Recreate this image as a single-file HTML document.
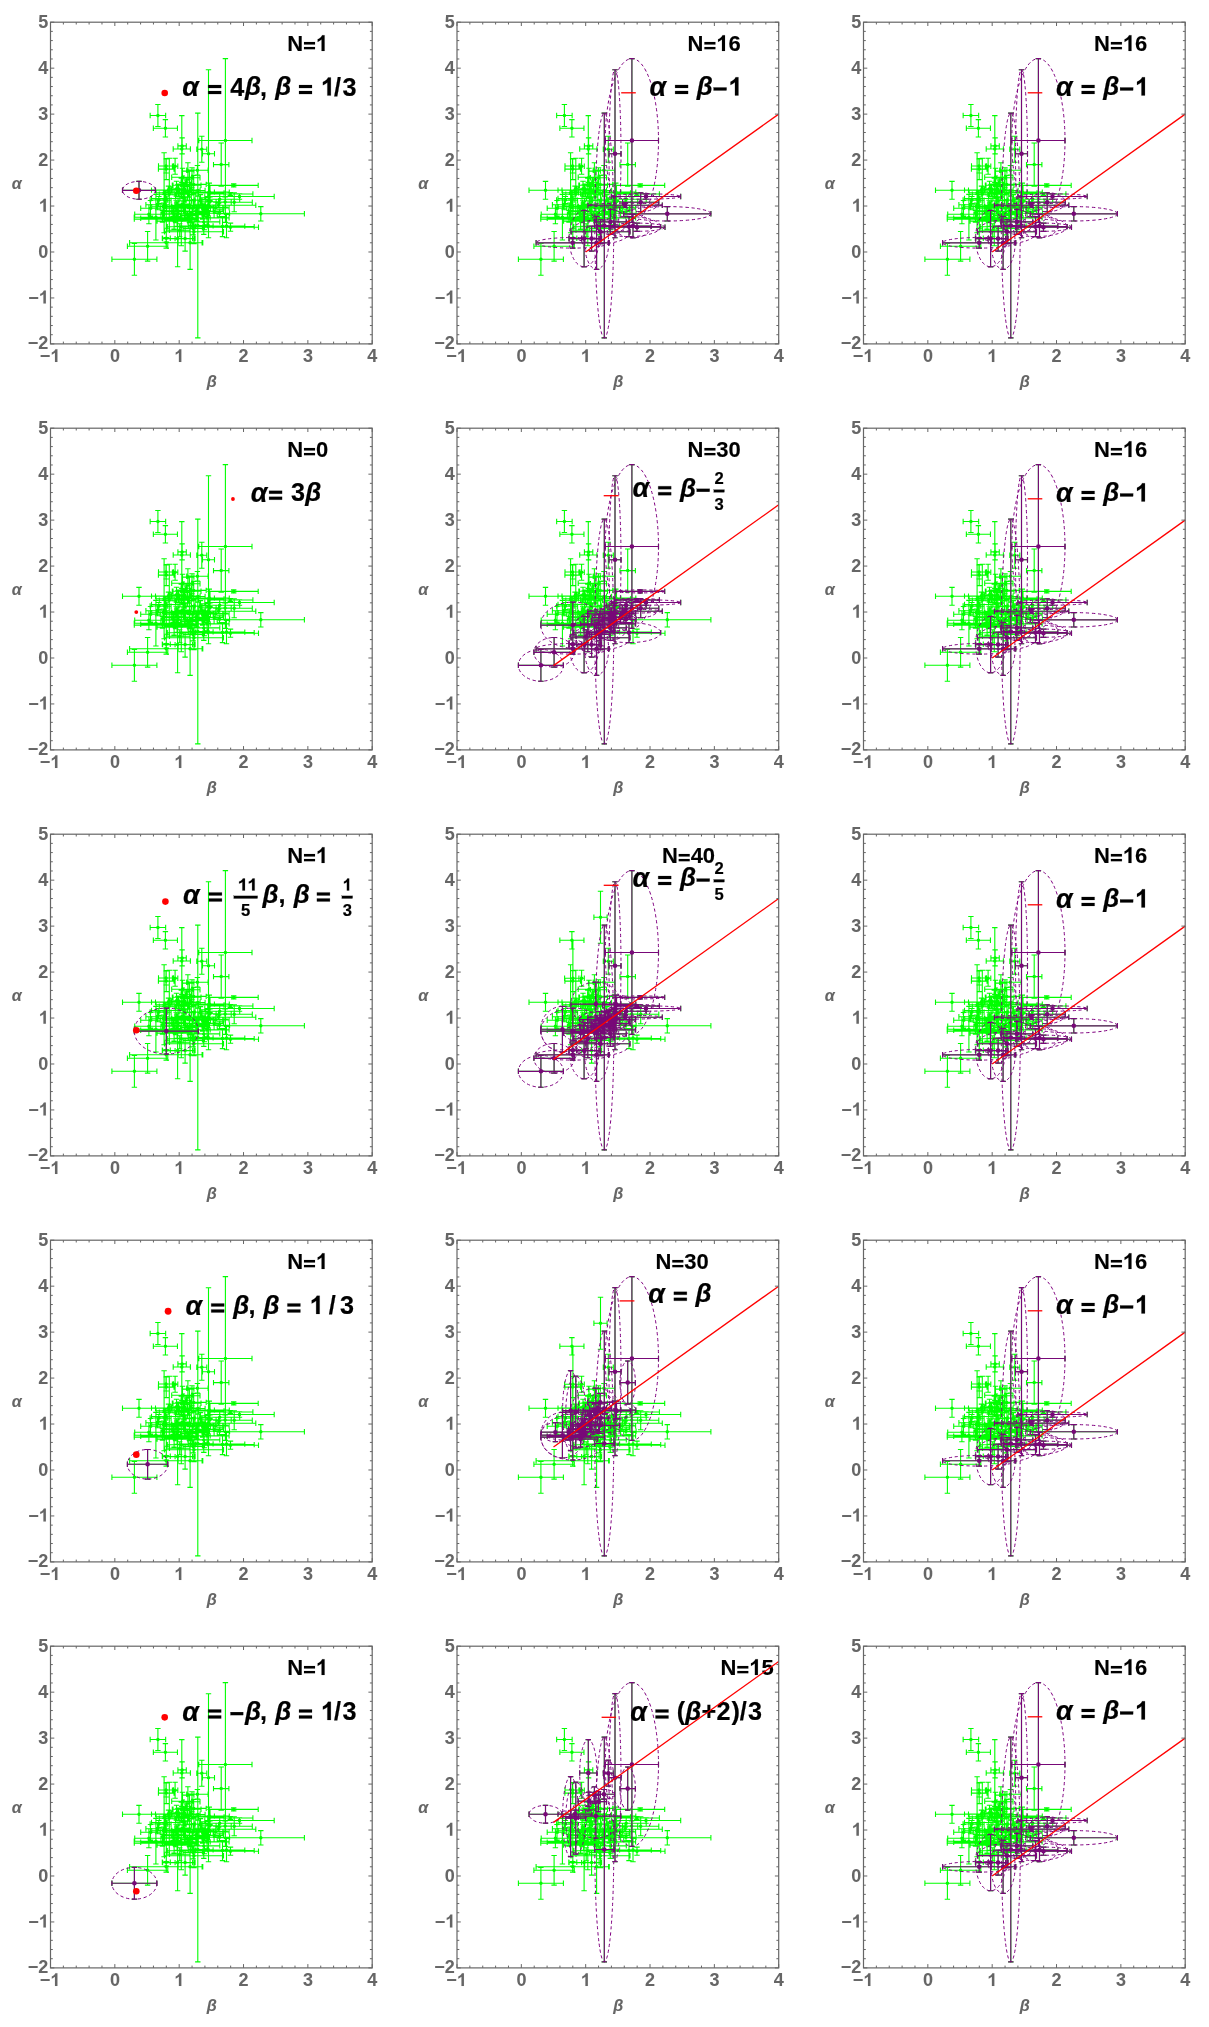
<!DOCTYPE html>
<html><head><meta charset="utf-8"><title>alpha-beta closure relations</title>
<style>html,body{margin:0;padding:0;background:#fff}svg{display:block;font-family:"Liberation Sans",sans-serif}</style></head><body>
<svg width="1209" height="2027" viewBox="0 0 1209 2027" style="will-change:transform">
<rect width="1209" height="2027" fill="#fff"/>
<defs>
<g id="gA" stroke="#00ff00" fill="none" stroke-width="1.1"><path d="M99.65 93.3H115.15M107.4 82.25V104.35M99.65 90.6V96M115.15 90.6V96M104.7 82.25H110.1M104.7 104.35H110.1M102.85 106.1H126.95M114.9 97.45V114.75M102.85 103.4V108.8M126.95 103.4V108.8M112.2 97.45H117.6M112.2 114.75H117.6M127.4 123.7H135.8M131.6 115.7V131.7M127.4 121V126.4M135.8 121V126.4M128.9 115.7H134.3M128.9 131.7H134.3M122.7 126.8H139.9M131.3 93.4V160.2M122.7 124.1V129.5M139.9 124.1V129.5M128.6 93.4H134M128.6 160.2H134M146.3 127H156.3M151.3 114V140M146.3 124.3V129.7M156.3 124.3V129.7M148.6 114H154M148.6 140H154M152 131.5H164M158 47.5V215.5M152 128.8V134.2M164 128.8V134.2M155.3 47.5H160.7M155.3 215.5H160.7M148.3 118.3H201.5M174.9 36.4V200.2M148.3 115.6V121M201.5 115.6V121M172.2 36.4H177.6M172.2 200.2H177.6M163 142.4H178.4M170.7 120.8V164M163 139.7V145.1M178.4 139.7V145.1M168 120.8H173.4M168 164H173.4M137.8 203.3H156.8M147.3 90.9V315.7M137.8 200.6V206M156.8 200.6V206M144.6 90.9H150M144.6 315.7H150M72 168.1H105M88.5 159.2V177M72 165.4V170.8M105 165.4V170.8M85.8 159.2H91.2M85.8 177H91.2M76.9 224.1H117.3M97.1 209.3V238.9M76.9 221.4V226.8M117.3 221.4V226.8M94.4 209.3H99.8M94.4 238.9H99.8M61.4 237.1H106.4M83.9 221.2V253M61.4 234.4V239.8M106.4 234.4V239.8M81.2 221.2H86.6M81.2 253H86.6M79.1 220.6H152.3M115.7 215.3V225.9M79.1 217.9V223.3M152.3 217.9V223.3M113 215.3H118.4M113 225.9H118.4M112.1 216.4H142.1M127.1 188.2V244.6M112.1 213.7V219.1M142.1 213.7V219.1M124.4 188.2H129.8M124.4 244.6H129.8M124.6 216.4H144.6M134.6 203.9V228.9M124.6 213.7V219.1M144.6 213.7V219.1M131.9 203.9H137.3M131.9 228.9H137.3M127.6 220.6H151.6M139.6 194V247.2M127.6 217.9V223.3M151.6 217.9V223.3M136.9 194H142.3M136.9 247.2H142.3M114 209.5H173M143.5 197.5V221.5M114 206.8V212.2M173 206.8V212.2M140.8 197.5H146.2M140.8 221.5H146.2M116.8 204.5H144.8M130.8 185.5V223.5M116.8 201.8V207.2M144.8 201.8V207.2M128.1 185.5H133.5M128.1 223.5H133.5M83.7 195H127.1M105.4 172.2V217.8M83.7 192.3V197.7M127.1 192.3V197.7M102.7 172.2H108.1M102.7 217.8H108.1M83.8 196.9H147.8M115.8 173.9V219.9M83.8 194.2V199.6M147.8 194.2V199.6M113.1 173.9H118.5M113.1 219.9H118.5M166.7 191.6H253.9M210.3 184.4V198.8M166.7 188.9V194.3M253.9 188.9V194.3M207.6 184.4H213M207.6 198.8H213M154.3 174.3H223.7M189 171.6V177M154.3 171.6V177M223.7 171.6V177M186.3 171.6H191.7M186.3 177H191.7M158.7 163.2H207.7M183.2 161.7V164.7M158.7 160.5V165.9M207.7 160.5V165.9M180.5 161.7H185.9M180.5 164.7H185.9M157.2 171.8H202.4M179.8 170.3V173.3M157.2 169.1V174.5M202.4 169.1V174.5M177.1 170.3H182.5M177.1 173.3H182.5M165.6 180H201.8M183.7 170.5V189.5M165.6 177.3V182.7M201.8 177.3V182.7M181 170.5H186.4M181 189.5H186.4M130.9 183H205.3M168.1 181V185M130.9 180.3V185.7M205.3 180.3V185.7M165.4 181H170.8M165.4 185H170.8M152 205H208M180 200.9V209.1M152 202.3V207.7M208 202.3V207.7M177.3 200.9H182.7M177.3 209.1H182.7M157.7 203.9H194.3M176 192.2V215.6M157.7 201.2V206.6M194.3 201.2V206.6M173.3 192.2H178.7M173.3 215.6H178.7M140.3 204.4H203.7M172 194.4V214.4M140.3 201.7V207.1M203.7 201.7V207.1M169.3 194.4H174.7M169.3 214.4H174.7M137.3 199.7H169.3M153.3 187.2V212.2M137.3 197V202.4M169.3 197V202.4M150.6 187.2H156M150.6 212.2H156M149.2 177H189.2M169.2 171V183M149.2 174.3V179.7M189.2 174.3V179.7M166.5 171H171.9M166.5 183H171.9M123.7 195.7H159.7M141.7 186.7V204.7M123.7 193V198.4M159.7 193V198.4M139 186.7H144.4M139 204.7H144.4M134.6 195.7H178.6M156.6 188.7V202.7M134.6 193V198.4M178.6 193V198.4M153.9 188.7H159.3M153.9 202.7H159.3M122.7 185.25H162.7M142.7 177.25V193.25M122.7 182.55V187.95M162.7 182.55V187.95M140 177.25H145.4M140 193.25H145.4M130.6 185.7H178.6M154.6 179.7V191.7M130.6 183V188.4M178.6 183V188.4M151.9 179.7H157.3M151.9 191.7H157.3M142.6 185.25H172.6M157.6 175.25V195.25M142.6 182.55V187.95M172.6 182.55V187.95M154.9 175.25H160.3M154.9 195.25H160.3M135.1 189.2H173.1M154.1 184.2V194.2M135.1 186.5V191.9M173.1 186.5V191.9M151.4 184.2H156.8M151.4 194.2H156.8M106.6 198.9H140.6M123.6 190.9V206.9M106.6 196.2V201.6M140.6 196.2V201.6M120.9 190.9H126.3M120.9 206.9H126.3M113.9 169.9H163.9M138.9 147.9V191.9M113.9 167.2V172.6M163.9 167.2V172.6M136.2 147.9H141.6M136.2 191.9H141.6M138.8 169.9H178.8M158.8 160.9V178.9M138.8 167.2V172.6M178.8 167.2V172.6M156.1 160.9H161.5M156.1 178.9H161.5M101 167.9H135M118 163.9V171.9M101 165.2V170.6M135 165.2V170.6M115.3 163.9H120.7M115.3 171.9H120.7M84.2 192H112.6M98.4 182.5V201.5M84.2 189.3V194.7M112.6 189.3V194.7M95.7 182.5H101.1M95.7 201.5H101.1M95.4 182.6H118.8M107.1 177.6V187.6M95.4 179.9V185.3M118.8 179.9V185.3M104.4 177.6H109.8M104.4 187.6H109.8M90.2 196H133.8M112 192V200M90.2 193.3V198.7M133.8 193.3V198.7M109.3 192H114.7M109.3 200H114.7M111.8 216H119.8M115.8 206V226M111.8 213.3V218.7M119.8 213.3V218.7M113.1 206H118.5M113.1 226H118.5M105.6 170.5H121.6M113.6 130.5V210.5M105.6 167.8V173.2M121.6 167.8V173.2M110.9 130.5H116.3M110.9 210.5H116.3M108.8 172H128.8M118.8 136V208M108.8 169.3V174.7M128.8 169.3V174.7M116.1 136H121.5M116.1 208H121.5M108 143.8H123M115.5 136.8V150.8M108 141.1V146.5M123 141.1V146.5M112.8 136.8H118.2M112.8 150.8H118.2M107.9 146.9H123.5M115.7 136.4V157.4M107.9 144.2V149.6M123.5 144.2V149.6M113 136.4H118.4M113 157.4H118.4M121.9 144H127.3M124.6 136V152M121.9 141.3V146.7M127.3 141.3V146.7M121.9 136H127.3M121.9 152H127.3M121.2 155H142.8M132 146V164M121.2 152.3V157.7M142.8 152.3V157.7M129.3 146H134.7M129.3 164H134.7M131.4 148.9H143.4M137.4 140.6V157.2M131.4 146.2V151.6M143.4 146.2V151.6M134.7 140.6H140.1M134.7 157.2H140.1M136.2 148.1H157.6M146.9 143.3V152.9M136.2 145.4V150.8M157.6 145.4V150.8M144.2 143.3H149.6M144.2 152.9H149.6M133.5 155.5H149.5M141.5 145.5V165.5M133.5 152.8V158.2M149.5 152.8V158.2M138.8 145.5H144.2M138.8 165.5H144.2M121.8 163H139.8M130.8 156V170M121.8 160.3V165.7M139.8 160.3V165.7M128.1 156H133.5M128.1 170H133.5M122.5 163H150.5M136.5 158V168M122.5 160.3V165.7M150.5 160.3V165.7M133.8 158H139.2M133.8 168H139.2M130.7 162.2H155.7M143.2 153.2V171.2M130.7 159.5V164.9M155.7 159.5V164.9M140.5 153.2H145.9M140.5 171.2H145.9M101.2 184.6H124.6M112.9 180.9V188.3M101.2 181.9V187.3M124.6 181.9V187.3M110.2 180.9H115.6M110.2 188.3H115.6M143.8 182.7H159.2M151.5 175.6V189.8M143.8 180V185.4M159.2 180V185.4M148.8 175.6H154.2M148.8 189.8H154.2M117.5 168.1H138.7M128.1 161.8V174.4M117.5 165.4V170.8M138.7 165.4V170.8M125.4 161.8H130.8M125.4 174.4H130.8M139.9 191.4H153.1M146.5 183.9V198.9M139.9 188.7V194.1M153.1 188.7V194.1M143.8 183.9H149.2M143.8 198.9H149.2M157.9 189.3H169.3M163.6 182.9V195.7M157.9 186.6V192M169.3 186.6V192M160.9 182.9H166.3M160.9 195.7H166.3M114.1 191.6H140.9M127.5 188.5V194.7M114.1 188.9V194.3M140.9 188.9V194.3M124.8 188.5H130.2M124.8 194.7H130.2M158.9 191.1H179.1M169 187.6V194.6M158.9 188.4V193.8M179.1 188.4V193.8M166.3 187.6H171.7M166.3 194.6H171.7M168.5 179.8H180.7M174.6 174.7V184.9M168.5 177.1V182.5M180.7 177.1V182.5M171.9 174.7H177.3M171.9 184.9H177.3M134 189.1H156.4M145.2 185.3V192.9M134 186.4V191.8M156.4 186.4V191.8M142.5 185.3H147.9M142.5 192.9H147.9M127.6 178.6H141M134.3 171.5V185.7M127.6 175.9V181.3M141 175.9V181.3M131.6 171.5H137M131.6 185.7H137M111.5 188.7H133.5M122.5 183.3V194.1M111.5 186V191.4M133.5 186V191.4M119.8 183.3H125.2M119.8 194.1H125.2M120.7 183.8H145.3M133 176V191.6M120.7 181.1V186.5M145.3 181.1V186.5M130.3 176H135.7M130.3 191.6H135.7M150.8 179.6H168M159.4 174.8V184.4M150.8 176.9V182.3M168 176.9V182.3M156.7 174.8H162.1M156.7 184.4H162.1M121.1 166.7H133.3M127.2 162.5V170.9M121.1 164V169.4M133.3 164V169.4M124.5 162.5H129.9M124.5 170.9H129.9M110.4 192H136.6M123.5 186.5V197.5M110.4 189.3V194.7M136.6 189.3V194.7M120.8 186.5H126.2M120.8 197.5H126.2M156 185.6H174.6M165.3 180V191.2M156 182.9V188.3M174.6 182.9V188.3M162.6 180H168M162.6 191.2H168M130 193.4H147.8M138.9 186.5V200.3M130 190.7V196.1M147.8 190.7V196.1M136.2 186.5H141.6M136.2 200.3H141.6M145.4 190.4H159M152.2 183.9V196.9M145.4 187.7V193.1M159 187.7V193.1M149.5 183.9H154.9M149.5 196.9H154.9M140.1 184H156.9M148.5 177.8V190.2M140.1 181.3V186.7M156.9 181.3V186.7M145.8 177.8H151.2M145.8 190.2H151.2M145.7 185.9H159.9M152.8 181.5V190.3M145.7 183.2V188.6M159.9 183.2V188.6M150.1 181.5H155.5M150.1 190.3H155.5M90.2 186.1H109.8M100 178.3V193.9M90.2 183.4V188.8M109.8 183.4V188.8M97.3 178.3H102.7M97.3 193.9H102.7M145.4 203.7H162.6M154 199.8V207.6M145.4 201V206.4M162.6 201V206.4M151.3 199.8H156.7M151.3 207.6H156.7M130.6 160H140.8M135.7 155.7V164.3M130.6 157.3V162.7M140.8 157.3V162.7M133 155.7H138.4M133 164.3H138.4M130.5 172H145.3M137.9 169V175M130.5 169.3V174.7M145.3 169.3V174.7M135.2 169H140.6M135.2 175H140.6M142.7 185.8H172.3M157.5 177.8V193.8M142.7 183.1V188.5M172.3 183.1V188.5M154.8 177.8H160.2M154.8 193.8H160.2M124.3 181.9H140.7M132.5 175V188.8M124.3 179.2V184.6M140.7 179.2V184.6M129.8 175H135.2M129.8 188.8H135.2M140 168.3H154.6M147.3 162.7V173.9M140 165.6V171M154.6 165.6V171M144.6 162.7H150M144.6 173.9H150M106.2 184.2H121.4M113.8 176.5V191.9M106.2 181.5V186.9M121.4 181.5V186.9M111.1 176.5H116.5M111.1 191.9H116.5M135.6 178H151.4M143.5 170.6V185.4M135.6 175.3V180.7M151.4 175.3V180.7M140.8 170.6H146.2M140.8 185.4H146.2M119 208H139.4M129.2 201.5V214.5M119 205.3V210.7M139.4 205.3V210.7M126.5 201.5H131.9M126.5 214.5H131.9M125 174.7H140.8M132.9 170.4V179M125 172V177.4M140.8 172V177.4M130.2 170.4H135.6M130.2 179H135.6M119.7 166.5H132.3M126 159.1V173.9M119.7 163.8V169.2M132.3 163.8V169.2M123.3 159.1H128.7M123.3 173.9H128.7M116.2 185.9H135M125.6 178V193.8M116.2 183.2V188.6M135 183.2V188.6M122.9 178H128.3M122.9 193.8H128.3M101 176.3H129.4M115.2 168.5V184.1M101 173.6V179M129.4 173.6V179M112.5 168.5H117.9M112.5 184.1H117.9M126.2 170.6H148M137.1 163.1V178.1M126.2 167.9V173.3M148 167.9V173.3M134.4 163.1H139.8M134.4 178.1H139.8M132.6 167.9H149.6M141.1 163.1V172.7M132.6 165.2V170.6M149.6 165.2V170.6M138.4 163.1H143.8M138.4 172.7H143.8M129 167.9H139.4M134.2 161.3V174.5M129 165.2V170.6M139.4 165.2V170.6M131.5 161.3H136.9M131.5 174.5H136.9M145.5 170.8H173.5M159.5 163.2V178.4M145.5 168.1V173.5M173.5 168.1V173.5M156.8 163.2H162.2M156.8 178.4H162.2M99.6 177.8H117.2M108.4 174.3V181.3M99.6 175.1V180.5M117.2 175.1V180.5M105.7 174.3H111.1M105.7 181.3H111.1M113.3 189.6H141.9M127.6 183.2V196M113.3 186.9V192.3M141.9 186.9V192.3M124.9 183.2H130.3M124.9 196H130.3M108.2 178H120.6M114.4 172.3V183.7M108.2 175.3V180.7M120.6 175.3V180.7M111.7 172.3H117.1M111.7 183.7H117.1M123.6 171.5H138.6M131.1 166.5V176.5M123.6 168.8V174.2M138.6 168.8V174.2M128.4 166.5H133.8M128.4 176.5H133.8M118.7 197H131.5M125.1 193.5V200.5M118.7 194.3V199.7M131.5 194.3V199.7M122.4 193.5H127.8M122.4 200.5H127.8M114 197.7H139.2M126.6 191.4V204M114 195V200.4M139.2 195V200.4M123.9 191.4H129.3M123.9 204H129.3M144.7 177.8H155.3M150 172.4V183.2M144.7 175.1V180.5M155.3 175.1V180.5M147.3 172.4H152.7M147.3 183.2H152.7M114.9 184.4H138.3M126.6 179.7V189.1M114.9 181.7V187.1M138.3 181.7V187.1M123.9 179.7H129.3M123.9 189.1H129.3M122.6 191.8H151.4M137 188.8V194.8M122.6 189.1V194.5M151.4 189.1V194.5M134.3 188.8H139.7M134.3 194.8H139.7M120.7 188.9H134.7M127.7 183.7V194.1M120.7 186.2V191.6M134.7 186.2V191.6M125 183.7H130.4M125 194.1H130.4M132.6 206.2H152.6M142.6 199.7V212.7M132.6 203.5V208.9M152.6 203.5V208.9M139.9 199.7H145.3M139.9 212.7H145.3M134.3 192.5H156.5M145.4 185.3V199.7M134.3 189.8V195.2M156.5 189.8V195.2M142.7 185.3H148.1M142.7 199.7H148.1"/><path d="M105.65 93.3a1.75 1.75 0 1 0 3.5 0a1.75 1.75 0 1 0 -3.5 0zM113.15 106.1a1.75 1.75 0 1 0 3.5 0a1.75 1.75 0 1 0 -3.5 0zM129.85 123.7a1.75 1.75 0 1 0 3.5 0a1.75 1.75 0 1 0 -3.5 0zM129.55 126.8a1.75 1.75 0 1 0 3.5 0a1.75 1.75 0 1 0 -3.5 0zM149.55 127a1.75 1.75 0 1 0 3.5 0a1.75 1.75 0 1 0 -3.5 0zM156.25 131.5a1.75 1.75 0 1 0 3.5 0a1.75 1.75 0 1 0 -3.5 0zM173.15 118.3a1.75 1.75 0 1 0 3.5 0a1.75 1.75 0 1 0 -3.5 0zM168.95 142.4a1.75 1.75 0 1 0 3.5 0a1.75 1.75 0 1 0 -3.5 0zM145.55 203.3a1.75 1.75 0 1 0 3.5 0a1.75 1.75 0 1 0 -3.5 0zM86.75 168.1a1.75 1.75 0 1 0 3.5 0a1.75 1.75 0 1 0 -3.5 0zM95.35 224.1a1.75 1.75 0 1 0 3.5 0a1.75 1.75 0 1 0 -3.5 0zM82.15 237.1a1.75 1.75 0 1 0 3.5 0a1.75 1.75 0 1 0 -3.5 0zM113.95 220.6a1.75 1.75 0 1 0 3.5 0a1.75 1.75 0 1 0 -3.5 0zM125.35 216.4a1.75 1.75 0 1 0 3.5 0a1.75 1.75 0 1 0 -3.5 0zM132.85 216.4a1.75 1.75 0 1 0 3.5 0a1.75 1.75 0 1 0 -3.5 0zM137.85 220.6a1.75 1.75 0 1 0 3.5 0a1.75 1.75 0 1 0 -3.5 0zM141.75 209.5a1.75 1.75 0 1 0 3.5 0a1.75 1.75 0 1 0 -3.5 0zM129.05 204.5a1.75 1.75 0 1 0 3.5 0a1.75 1.75 0 1 0 -3.5 0zM103.65 195a1.75 1.75 0 1 0 3.5 0a1.75 1.75 0 1 0 -3.5 0zM114.05 196.9a1.75 1.75 0 1 0 3.5 0a1.75 1.75 0 1 0 -3.5 0zM208.55 191.6a1.75 1.75 0 1 0 3.5 0a1.75 1.75 0 1 0 -3.5 0zM187.25 174.3a1.75 1.75 0 1 0 3.5 0a1.75 1.75 0 1 0 -3.5 0zM181.45 163.2a1.75 1.75 0 1 0 3.5 0a1.75 1.75 0 1 0 -3.5 0zM178.05 171.8a1.75 1.75 0 1 0 3.5 0a1.75 1.75 0 1 0 -3.5 0zM181.95 180a1.75 1.75 0 1 0 3.5 0a1.75 1.75 0 1 0 -3.5 0zM166.35 183a1.75 1.75 0 1 0 3.5 0a1.75 1.75 0 1 0 -3.5 0zM178.25 205a1.75 1.75 0 1 0 3.5 0a1.75 1.75 0 1 0 -3.5 0zM174.25 203.9a1.75 1.75 0 1 0 3.5 0a1.75 1.75 0 1 0 -3.5 0zM170.25 204.4a1.75 1.75 0 1 0 3.5 0a1.75 1.75 0 1 0 -3.5 0zM151.55 199.7a1.75 1.75 0 1 0 3.5 0a1.75 1.75 0 1 0 -3.5 0zM167.45 177a1.75 1.75 0 1 0 3.5 0a1.75 1.75 0 1 0 -3.5 0zM139.95 195.7a1.75 1.75 0 1 0 3.5 0a1.75 1.75 0 1 0 -3.5 0zM154.85 195.7a1.75 1.75 0 1 0 3.5 0a1.75 1.75 0 1 0 -3.5 0zM140.95 185.25a1.75 1.75 0 1 0 3.5 0a1.75 1.75 0 1 0 -3.5 0zM152.85 185.7a1.75 1.75 0 1 0 3.5 0a1.75 1.75 0 1 0 -3.5 0zM155.85 185.25a1.75 1.75 0 1 0 3.5 0a1.75 1.75 0 1 0 -3.5 0zM152.35 189.2a1.75 1.75 0 1 0 3.5 0a1.75 1.75 0 1 0 -3.5 0zM121.85 198.9a1.75 1.75 0 1 0 3.5 0a1.75 1.75 0 1 0 -3.5 0zM137.15 169.9a1.75 1.75 0 1 0 3.5 0a1.75 1.75 0 1 0 -3.5 0zM157.05 169.9a1.75 1.75 0 1 0 3.5 0a1.75 1.75 0 1 0 -3.5 0zM116.25 167.9a1.75 1.75 0 1 0 3.5 0a1.75 1.75 0 1 0 -3.5 0zM96.65 192a1.75 1.75 0 1 0 3.5 0a1.75 1.75 0 1 0 -3.5 0zM105.35 182.6a1.75 1.75 0 1 0 3.5 0a1.75 1.75 0 1 0 -3.5 0zM110.25 196a1.75 1.75 0 1 0 3.5 0a1.75 1.75 0 1 0 -3.5 0zM114.05 216a1.75 1.75 0 1 0 3.5 0a1.75 1.75 0 1 0 -3.5 0zM111.85 170.5a1.75 1.75 0 1 0 3.5 0a1.75 1.75 0 1 0 -3.5 0zM117.05 172a1.75 1.75 0 1 0 3.5 0a1.75 1.75 0 1 0 -3.5 0zM113.75 143.8a1.75 1.75 0 1 0 3.5 0a1.75 1.75 0 1 0 -3.5 0zM113.95 146.9a1.75 1.75 0 1 0 3.5 0a1.75 1.75 0 1 0 -3.5 0zM122.85 144a1.75 1.75 0 1 0 3.5 0a1.75 1.75 0 1 0 -3.5 0zM130.25 155a1.75 1.75 0 1 0 3.5 0a1.75 1.75 0 1 0 -3.5 0zM135.65 148.9a1.75 1.75 0 1 0 3.5 0a1.75 1.75 0 1 0 -3.5 0zM145.15 148.1a1.75 1.75 0 1 0 3.5 0a1.75 1.75 0 1 0 -3.5 0zM139.75 155.5a1.75 1.75 0 1 0 3.5 0a1.75 1.75 0 1 0 -3.5 0zM129.05 163a1.75 1.75 0 1 0 3.5 0a1.75 1.75 0 1 0 -3.5 0zM134.75 163a1.75 1.75 0 1 0 3.5 0a1.75 1.75 0 1 0 -3.5 0zM141.45 162.2a1.75 1.75 0 1 0 3.5 0a1.75 1.75 0 1 0 -3.5 0zM111.15 184.6a1.75 1.75 0 1 0 3.5 0a1.75 1.75 0 1 0 -3.5 0zM149.75 182.7a1.75 1.75 0 1 0 3.5 0a1.75 1.75 0 1 0 -3.5 0zM126.35 168.1a1.75 1.75 0 1 0 3.5 0a1.75 1.75 0 1 0 -3.5 0zM144.75 191.4a1.75 1.75 0 1 0 3.5 0a1.75 1.75 0 1 0 -3.5 0zM161.85 189.3a1.75 1.75 0 1 0 3.5 0a1.75 1.75 0 1 0 -3.5 0zM125.75 191.6a1.75 1.75 0 1 0 3.5 0a1.75 1.75 0 1 0 -3.5 0zM167.25 191.1a1.75 1.75 0 1 0 3.5 0a1.75 1.75 0 1 0 -3.5 0zM172.85 179.8a1.75 1.75 0 1 0 3.5 0a1.75 1.75 0 1 0 -3.5 0zM143.45 189.1a1.75 1.75 0 1 0 3.5 0a1.75 1.75 0 1 0 -3.5 0zM132.55 178.6a1.75 1.75 0 1 0 3.5 0a1.75 1.75 0 1 0 -3.5 0zM120.75 188.7a1.75 1.75 0 1 0 3.5 0a1.75 1.75 0 1 0 -3.5 0zM131.25 183.8a1.75 1.75 0 1 0 3.5 0a1.75 1.75 0 1 0 -3.5 0zM157.65 179.6a1.75 1.75 0 1 0 3.5 0a1.75 1.75 0 1 0 -3.5 0zM125.45 166.7a1.75 1.75 0 1 0 3.5 0a1.75 1.75 0 1 0 -3.5 0zM121.75 192a1.75 1.75 0 1 0 3.5 0a1.75 1.75 0 1 0 -3.5 0zM163.55 185.6a1.75 1.75 0 1 0 3.5 0a1.75 1.75 0 1 0 -3.5 0zM137.15 193.4a1.75 1.75 0 1 0 3.5 0a1.75 1.75 0 1 0 -3.5 0zM150.45 190.4a1.75 1.75 0 1 0 3.5 0a1.75 1.75 0 1 0 -3.5 0zM146.75 184a1.75 1.75 0 1 0 3.5 0a1.75 1.75 0 1 0 -3.5 0zM151.05 185.9a1.75 1.75 0 1 0 3.5 0a1.75 1.75 0 1 0 -3.5 0zM98.25 186.1a1.75 1.75 0 1 0 3.5 0a1.75 1.75 0 1 0 -3.5 0zM152.25 203.7a1.75 1.75 0 1 0 3.5 0a1.75 1.75 0 1 0 -3.5 0zM133.95 160a1.75 1.75 0 1 0 3.5 0a1.75 1.75 0 1 0 -3.5 0zM136.15 172a1.75 1.75 0 1 0 3.5 0a1.75 1.75 0 1 0 -3.5 0zM155.75 185.8a1.75 1.75 0 1 0 3.5 0a1.75 1.75 0 1 0 -3.5 0zM130.75 181.9a1.75 1.75 0 1 0 3.5 0a1.75 1.75 0 1 0 -3.5 0zM145.55 168.3a1.75 1.75 0 1 0 3.5 0a1.75 1.75 0 1 0 -3.5 0zM112.05 184.2a1.75 1.75 0 1 0 3.5 0a1.75 1.75 0 1 0 -3.5 0zM141.75 178a1.75 1.75 0 1 0 3.5 0a1.75 1.75 0 1 0 -3.5 0zM127.45 208a1.75 1.75 0 1 0 3.5 0a1.75 1.75 0 1 0 -3.5 0zM131.15 174.7a1.75 1.75 0 1 0 3.5 0a1.75 1.75 0 1 0 -3.5 0zM124.25 166.5a1.75 1.75 0 1 0 3.5 0a1.75 1.75 0 1 0 -3.5 0zM123.85 185.9a1.75 1.75 0 1 0 3.5 0a1.75 1.75 0 1 0 -3.5 0zM113.45 176.3a1.75 1.75 0 1 0 3.5 0a1.75 1.75 0 1 0 -3.5 0zM135.35 170.6a1.75 1.75 0 1 0 3.5 0a1.75 1.75 0 1 0 -3.5 0zM139.35 167.9a1.75 1.75 0 1 0 3.5 0a1.75 1.75 0 1 0 -3.5 0zM132.45 167.9a1.75 1.75 0 1 0 3.5 0a1.75 1.75 0 1 0 -3.5 0zM157.75 170.8a1.75 1.75 0 1 0 3.5 0a1.75 1.75 0 1 0 -3.5 0zM106.65 177.8a1.75 1.75 0 1 0 3.5 0a1.75 1.75 0 1 0 -3.5 0zM125.85 189.6a1.75 1.75 0 1 0 3.5 0a1.75 1.75 0 1 0 -3.5 0zM112.65 178a1.75 1.75 0 1 0 3.5 0a1.75 1.75 0 1 0 -3.5 0zM129.35 171.5a1.75 1.75 0 1 0 3.5 0a1.75 1.75 0 1 0 -3.5 0zM123.35 197a1.75 1.75 0 1 0 3.5 0a1.75 1.75 0 1 0 -3.5 0zM124.85 197.7a1.75 1.75 0 1 0 3.5 0a1.75 1.75 0 1 0 -3.5 0zM148.25 177.8a1.75 1.75 0 1 0 3.5 0a1.75 1.75 0 1 0 -3.5 0zM124.85 184.4a1.75 1.75 0 1 0 3.5 0a1.75 1.75 0 1 0 -3.5 0zM135.25 191.8a1.75 1.75 0 1 0 3.5 0a1.75 1.75 0 1 0 -3.5 0zM125.95 188.9a1.75 1.75 0 1 0 3.5 0a1.75 1.75 0 1 0 -3.5 0zM140.85 206.2a1.75 1.75 0 1 0 3.5 0a1.75 1.75 0 1 0 -3.5 0zM143.65 192.5a1.75 1.75 0 1 0 3.5 0a1.75 1.75 0 1 0 -3.5 0z" fill="#00ff00" stroke="none"/></g>
<g id="gB" stroke="#00ff00" fill="none" stroke-width="1.1"><path d="M102.85 106.1H126.95M114.9 97.45V114.75M102.85 103.4V108.8M126.95 103.4V108.8M112.2 97.45H117.6M112.2 114.75H117.6M146.3 127H156.3M151.3 114V140M146.3 124.3V129.7M156.3 124.3V129.7M148.6 114H154M148.6 140H154M152 131.5H164M158 47.5V215.5M152 128.8V134.2M164 128.8V134.2M155.3 47.5H160.7M155.3 215.5H160.7M148.3 118.3H201.5M174.9 36.4V200.2M148.3 115.6V121M201.5 115.6V121M172.2 36.4H177.6M172.2 200.2H177.6M163 142.4H178.4M170.7 120.8V164M163 139.7V145.1M178.4 139.7V145.1M168 120.8H173.4M168 164H173.4M137.8 203.3H156.8M147.3 90.9V315.7M137.8 200.6V206M156.8 200.6V206M144.6 90.9H150M144.6 315.7H150M72 168.1H105M88.5 159.2V177M72 165.4V170.8M105 165.4V170.8M85.8 159.2H91.2M85.8 177H91.2M76.9 224.1H117.3M97.1 209.3V238.9M76.9 221.4V226.8M117.3 221.4V226.8M94.4 209.3H99.8M94.4 238.9H99.8M61.4 237.1H106.4M83.9 221.2V253M61.4 234.4V239.8M106.4 234.4V239.8M81.2 221.2H86.6M81.2 253H86.6M79.1 220.6H152.3M115.7 215.3V225.9M79.1 217.9V223.3M152.3 217.9V223.3M113 215.3H118.4M113 225.9H118.4M112.1 216.4H142.1M127.1 188.2V244.6M112.1 213.7V219.1M142.1 213.7V219.1M124.4 188.2H129.8M124.4 244.6H129.8M124.6 216.4H144.6M134.6 203.9V228.9M124.6 213.7V219.1M144.6 213.7V219.1M131.9 203.9H137.3M131.9 228.9H137.3M127.6 220.6H151.6M139.6 194V247.2M127.6 217.9V223.3M151.6 217.9V223.3M136.9 194H142.3M136.9 247.2H142.3M114 209.5H173M143.5 197.5V221.5M114 206.8V212.2M173 206.8V212.2M140.8 197.5H146.2M140.8 221.5H146.2M116.8 204.5H144.8M130.8 185.5V223.5M116.8 201.8V207.2M144.8 201.8V207.2M128.1 185.5H133.5M128.1 223.5H133.5M83.7 195H127.1M105.4 172.2V217.8M83.7 192.3V197.7M127.1 192.3V197.7M102.7 172.2H108.1M102.7 217.8H108.1M83.8 196.9H147.8M115.8 173.9V219.9M83.8 194.2V199.6M147.8 194.2V199.6M113.1 173.9H118.5M113.1 219.9H118.5M166.7 191.6H253.9M210.3 184.4V198.8M166.7 188.9V194.3M253.9 188.9V194.3M207.6 184.4H213M207.6 198.8H213M154.3 174.3H223.7M189 171.6V177M154.3 171.6V177M223.7 171.6V177M186.3 171.6H191.7M186.3 177H191.7M158.7 163.2H207.7M183.2 161.7V164.7M158.7 160.5V165.9M207.7 160.5V165.9M180.5 161.7H185.9M180.5 164.7H185.9M157.2 171.8H202.4M179.8 170.3V173.3M157.2 169.1V174.5M202.4 169.1V174.5M177.1 170.3H182.5M177.1 173.3H182.5M165.6 180H201.8M183.7 170.5V189.5M165.6 177.3V182.7M201.8 177.3V182.7M181 170.5H186.4M181 189.5H186.4M130.9 183H205.3M168.1 181V185M130.9 180.3V185.7M205.3 180.3V185.7M165.4 181H170.8M165.4 185H170.8M152 205H208M180 200.9V209.1M152 202.3V207.7M208 202.3V207.7M177.3 200.9H182.7M177.3 209.1H182.7M157.7 203.9H194.3M176 192.2V215.6M157.7 201.2V206.6M194.3 201.2V206.6M173.3 192.2H178.7M173.3 215.6H178.7M140.3 204.4H203.7M172 194.4V214.4M140.3 201.7V207.1M203.7 201.7V207.1M169.3 194.4H174.7M169.3 214.4H174.7M137.3 199.7H169.3M153.3 187.2V212.2M137.3 197V202.4M169.3 197V202.4M150.6 187.2H156M150.6 212.2H156M149.2 177H189.2M169.2 171V183M149.2 174.3V179.7M189.2 174.3V179.7M166.5 171H171.9M166.5 183H171.9M123.7 195.7H159.7M141.7 186.7V204.7M123.7 193V198.4M159.7 193V198.4M139 186.7H144.4M139 204.7H144.4M134.6 195.7H178.6M156.6 188.7V202.7M134.6 193V198.4M178.6 193V198.4M153.9 188.7H159.3M153.9 202.7H159.3M122.7 185.25H162.7M142.7 177.25V193.25M122.7 182.55V187.95M162.7 182.55V187.95M140 177.25H145.4M140 193.25H145.4M130.6 185.7H178.6M154.6 179.7V191.7M130.6 183V188.4M178.6 183V188.4M151.9 179.7H157.3M151.9 191.7H157.3M142.6 185.25H172.6M157.6 175.25V195.25M142.6 182.55V187.95M172.6 182.55V187.95M154.9 175.25H160.3M154.9 195.25H160.3M135.1 189.2H173.1M154.1 184.2V194.2M135.1 186.5V191.9M173.1 186.5V191.9M151.4 184.2H156.8M151.4 194.2H156.8M106.6 198.9H140.6M123.6 190.9V206.9M106.6 196.2V201.6M140.6 196.2V201.6M120.9 190.9H126.3M120.9 206.9H126.3M113.9 169.9H163.9M138.9 147.9V191.9M113.9 167.2V172.6M163.9 167.2V172.6M136.2 147.9H141.6M136.2 191.9H141.6M138.8 169.9H178.8M158.8 160.9V178.9M138.8 167.2V172.6M178.8 167.2V172.6M156.1 160.9H161.5M156.1 178.9H161.5M101 167.9H135M118 163.9V171.9M101 165.2V170.6M135 165.2V170.6M115.3 163.9H120.7M115.3 171.9H120.7M84.2 192H112.6M98.4 182.5V201.5M84.2 189.3V194.7M112.6 189.3V194.7M95.7 182.5H101.1M95.7 201.5H101.1M95.4 182.6H118.8M107.1 177.6V187.6M95.4 179.9V185.3M118.8 179.9V185.3M104.4 177.6H109.8M104.4 187.6H109.8M90.2 196H133.8M112 192V200M90.2 193.3V198.7M133.8 193.3V198.7M109.3 192H114.7M109.3 200H114.7M111.8 216H119.8M115.8 206V226M111.8 213.3V218.7M119.8 213.3V218.7M113.1 206H118.5M113.1 226H118.5M105.6 170.5H121.6M113.6 130.5V210.5M105.6 167.8V173.2M121.6 167.8V173.2M110.9 130.5H116.3M110.9 210.5H116.3M108.8 172H128.8M118.8 136V208M108.8 169.3V174.7M128.8 169.3V174.7M116.1 136H121.5M116.1 208H121.5M107.6 144H124.2M115.9 106V182M107.6 141.3V146.7M124.2 141.3V146.7M113.2 106H118.6M113.2 182H118.6M107.9 146.9H123.5M115.7 136.4V157.4M107.9 144.2V149.6M123.5 144.2V149.6M113 136.4H118.4M113 157.4H118.4M121.9 144H127.3M124.6 136V152M121.9 141.3V146.7M127.3 141.3V146.7M121.9 136H127.3M121.9 152H127.3M121.2 155H142.8M132 146V164M121.2 152.3V157.7M142.8 152.3V157.7M129.3 146H134.7M129.3 164H134.7M131.4 148.9H143.4M137.4 140.6V157.2M131.4 146.2V151.6M143.4 146.2V151.6M134.7 140.6H140.1M134.7 157.2H140.1M136.2 148.1H157.6M146.9 143.3V152.9M136.2 145.4V150.8M157.6 145.4V150.8M144.2 143.3H149.6M144.2 152.9H149.6M133.5 155.5H149.5M141.5 145.5V165.5M133.5 152.8V158.2M149.5 152.8V158.2M138.8 145.5H144.2M138.8 165.5H144.2M121.8 163H139.8M130.8 156V170M121.8 160.3V165.7M139.8 160.3V165.7M128.1 156H133.5M128.1 170H133.5M122.5 163H150.5M136.5 158V168M122.5 160.3V165.7M150.5 160.3V165.7M133.8 158H139.2M133.8 168H139.2M130.7 162.2H155.7M143.2 153.2V171.2M130.7 159.5V164.9M155.7 159.5V164.9M140.5 153.2H145.9M140.5 171.2H145.9M101.2 184.6H124.6M112.9 180.9V188.3M101.2 181.9V187.3M124.6 181.9V187.3M110.2 180.9H115.6M110.2 188.3H115.6M143.8 182.7H159.2M151.5 175.6V189.8M143.8 180V185.4M159.2 180V185.4M148.8 175.6H154.2M148.8 189.8H154.2M117.5 168.1H138.7M128.1 161.8V174.4M117.5 165.4V170.8M138.7 165.4V170.8M125.4 161.8H130.8M125.4 174.4H130.8M139.9 191.4H153.1M146.5 183.9V198.9M139.9 188.7V194.1M153.1 188.7V194.1M143.8 183.9H149.2M143.8 198.9H149.2M157.9 189.3H169.3M163.6 182.9V195.7M157.9 186.6V192M169.3 186.6V192M160.9 182.9H166.3M160.9 195.7H166.3M114.1 191.6H140.9M127.5 188.5V194.7M114.1 188.9V194.3M140.9 188.9V194.3M124.8 188.5H130.2M124.8 194.7H130.2M158.9 191.1H179.1M169 187.6V194.6M158.9 188.4V193.8M179.1 188.4V193.8M166.3 187.6H171.7M166.3 194.6H171.7M168.5 179.8H180.7M174.6 174.7V184.9M168.5 177.1V182.5M180.7 177.1V182.5M171.9 174.7H177.3M171.9 184.9H177.3M134 189.1H156.4M145.2 185.3V192.9M134 186.4V191.8M156.4 186.4V191.8M142.5 185.3H147.9M142.5 192.9H147.9M127.6 178.6H141M134.3 171.5V185.7M127.6 175.9V181.3M141 175.9V181.3M131.6 171.5H137M131.6 185.7H137M111.5 188.7H133.5M122.5 183.3V194.1M111.5 186V191.4M133.5 186V191.4M119.8 183.3H125.2M119.8 194.1H125.2M120.7 183.8H145.3M133 176V191.6M120.7 181.1V186.5M145.3 181.1V186.5M130.3 176H135.7M130.3 191.6H135.7M150.8 179.6H168M159.4 174.8V184.4M150.8 176.9V182.3M168 176.9V182.3M156.7 174.8H162.1M156.7 184.4H162.1M121.1 166.7H133.3M127.2 162.5V170.9M121.1 164V169.4M133.3 164V169.4M124.5 162.5H129.9M124.5 170.9H129.9M110.4 192H136.6M123.5 186.5V197.5M110.4 189.3V194.7M136.6 189.3V194.7M120.8 186.5H126.2M120.8 197.5H126.2M156 185.6H174.6M165.3 180V191.2M156 182.9V188.3M174.6 182.9V188.3M162.6 180H168M162.6 191.2H168M130 193.4H147.8M138.9 186.5V200.3M130 190.7V196.1M147.8 190.7V196.1M136.2 186.5H141.6M136.2 200.3H141.6M145.4 190.4H159M152.2 183.9V196.9M145.4 187.7V193.1M159 187.7V193.1M149.5 183.9H154.9M149.5 196.9H154.9M140.1 184H156.9M148.5 177.8V190.2M140.1 181.3V186.7M156.9 181.3V186.7M145.8 177.8H151.2M145.8 190.2H151.2M145.7 185.9H159.9M152.8 181.5V190.3M145.7 183.2V188.6M159.9 183.2V188.6M150.1 181.5H155.5M150.1 190.3H155.5M90.2 186.1H109.8M100 178.3V193.9M90.2 183.4V188.8M109.8 183.4V188.8M97.3 178.3H102.7M97.3 193.9H102.7M145.4 203.7H162.6M154 199.8V207.6M145.4 201V206.4M162.6 201V206.4M151.3 199.8H156.7M151.3 207.6H156.7M130.6 160H140.8M135.7 155.7V164.3M130.6 157.3V162.7M140.8 157.3V162.7M133 155.7H138.4M133 164.3H138.4M130.5 172H145.3M137.9 169V175M130.5 169.3V174.7M145.3 169.3V174.7M135.2 169H140.6M135.2 175H140.6M142.7 185.8H172.3M157.5 177.8V193.8M142.7 183.1V188.5M172.3 183.1V188.5M154.8 177.8H160.2M154.8 193.8H160.2M124.3 181.9H140.7M132.5 175V188.8M124.3 179.2V184.6M140.7 179.2V184.6M129.8 175H135.2M129.8 188.8H135.2M140 168.3H154.6M147.3 162.7V173.9M140 165.6V171M154.6 165.6V171M144.6 162.7H150M144.6 173.9H150M106.2 184.2H121.4M113.8 176.5V191.9M106.2 181.5V186.9M121.4 181.5V186.9M111.1 176.5H116.5M111.1 191.9H116.5M135.6 178H151.4M143.5 170.6V185.4M135.6 175.3V180.7M151.4 175.3V180.7M140.8 170.6H146.2M140.8 185.4H146.2M119 208H139.4M129.2 201.5V214.5M119 205.3V210.7M139.4 205.3V210.7M126.5 201.5H131.9M126.5 214.5H131.9M125 174.7H140.8M132.9 170.4V179M125 172V177.4M140.8 172V177.4M130.2 170.4H135.6M130.2 179H135.6M119.7 166.5H132.3M126 159.1V173.9M119.7 163.8V169.2M132.3 163.8V169.2M123.3 159.1H128.7M123.3 173.9H128.7M116.2 185.9H135M125.6 178V193.8M116.2 183.2V188.6M135 183.2V188.6M122.9 178H128.3M122.9 193.8H128.3M101 176.3H129.4M115.2 168.5V184.1M101 173.6V179M129.4 173.6V179M112.5 168.5H117.9M112.5 184.1H117.9M126.2 170.6H148M137.1 163.1V178.1M126.2 167.9V173.3M148 167.9V173.3M134.4 163.1H139.8M134.4 178.1H139.8M132.6 167.9H149.6M141.1 163.1V172.7M132.6 165.2V170.6M149.6 165.2V170.6M138.4 163.1H143.8M138.4 172.7H143.8M129 167.9H139.4M134.2 161.3V174.5M129 165.2V170.6M139.4 165.2V170.6M131.5 161.3H136.9M131.5 174.5H136.9M145.5 170.8H173.5M159.5 163.2V178.4M145.5 168.1V173.5M173.5 168.1V173.5M156.8 163.2H162.2M156.8 178.4H162.2M99.6 177.8H117.2M108.4 174.3V181.3M99.6 175.1V180.5M117.2 175.1V180.5M105.7 174.3H111.1M105.7 181.3H111.1M113.3 189.6H141.9M127.6 183.2V196M113.3 186.9V192.3M141.9 186.9V192.3M124.9 183.2H130.3M124.9 196H130.3M108.2 178H120.6M114.4 172.3V183.7M108.2 175.3V180.7M120.6 175.3V180.7M111.7 172.3H117.1M111.7 183.7H117.1M123.6 171.5H138.6M131.1 166.5V176.5M123.6 168.8V174.2M138.6 168.8V174.2M128.4 166.5H133.8M128.4 176.5H133.8M118.7 197H131.5M125.1 193.5V200.5M118.7 194.3V199.7M131.5 194.3V199.7M122.4 193.5H127.8M122.4 200.5H127.8M114 197.7H139.2M126.6 191.4V204M114 195V200.4M139.2 195V200.4M123.9 191.4H129.3M123.9 204H129.3M144.7 177.8H155.3M150 172.4V183.2M144.7 175.1V180.5M155.3 175.1V180.5M147.3 172.4H152.7M147.3 183.2H152.7M114.9 184.4H138.3M126.6 179.7V189.1M114.9 181.7V187.1M138.3 181.7V187.1M123.9 179.7H129.3M123.9 189.1H129.3M122.6 191.8H151.4M137 188.8V194.8M122.6 189.1V194.5M151.4 189.1V194.5M134.3 188.8H139.7M134.3 194.8H139.7M120.7 188.9H134.7M127.7 183.7V194.1M120.7 186.2V191.6M134.7 186.2V191.6M125 183.7H130.4M125 194.1H130.4M132.6 206.2H152.6M142.6 199.7V212.7M132.6 203.5V208.9M152.6 203.5V208.9M139.9 199.7H145.3M139.9 212.7H145.3M134.3 192.5H156.5M145.4 185.3V199.7M134.3 189.8V195.2M156.5 189.8V195.2M142.7 185.3H148.1M142.7 199.7H148.1M136.9 83.1H150.1M143.5 57.1V109.1M136.9 80.4V85.8M150.1 80.4V85.8M140.8 57.1H146.2M140.8 109.1H146.2"/><path d="M113.15 106.1a1.75 1.75 0 1 0 3.5 0a1.75 1.75 0 1 0 -3.5 0zM149.55 127a1.75 1.75 0 1 0 3.5 0a1.75 1.75 0 1 0 -3.5 0zM156.25 131.5a1.75 1.75 0 1 0 3.5 0a1.75 1.75 0 1 0 -3.5 0zM173.15 118.3a1.75 1.75 0 1 0 3.5 0a1.75 1.75 0 1 0 -3.5 0zM168.95 142.4a1.75 1.75 0 1 0 3.5 0a1.75 1.75 0 1 0 -3.5 0zM145.55 203.3a1.75 1.75 0 1 0 3.5 0a1.75 1.75 0 1 0 -3.5 0zM86.75 168.1a1.75 1.75 0 1 0 3.5 0a1.75 1.75 0 1 0 -3.5 0zM95.35 224.1a1.75 1.75 0 1 0 3.5 0a1.75 1.75 0 1 0 -3.5 0zM82.15 237.1a1.75 1.75 0 1 0 3.5 0a1.75 1.75 0 1 0 -3.5 0zM113.95 220.6a1.75 1.75 0 1 0 3.5 0a1.75 1.75 0 1 0 -3.5 0zM125.35 216.4a1.75 1.75 0 1 0 3.5 0a1.75 1.75 0 1 0 -3.5 0zM132.85 216.4a1.75 1.75 0 1 0 3.5 0a1.75 1.75 0 1 0 -3.5 0zM137.85 220.6a1.75 1.75 0 1 0 3.5 0a1.75 1.75 0 1 0 -3.5 0zM141.75 209.5a1.75 1.75 0 1 0 3.5 0a1.75 1.75 0 1 0 -3.5 0zM129.05 204.5a1.75 1.75 0 1 0 3.5 0a1.75 1.75 0 1 0 -3.5 0zM103.65 195a1.75 1.75 0 1 0 3.5 0a1.75 1.75 0 1 0 -3.5 0zM114.05 196.9a1.75 1.75 0 1 0 3.5 0a1.75 1.75 0 1 0 -3.5 0zM208.55 191.6a1.75 1.75 0 1 0 3.5 0a1.75 1.75 0 1 0 -3.5 0zM187.25 174.3a1.75 1.75 0 1 0 3.5 0a1.75 1.75 0 1 0 -3.5 0zM181.45 163.2a1.75 1.75 0 1 0 3.5 0a1.75 1.75 0 1 0 -3.5 0zM178.05 171.8a1.75 1.75 0 1 0 3.5 0a1.75 1.75 0 1 0 -3.5 0zM181.95 180a1.75 1.75 0 1 0 3.5 0a1.75 1.75 0 1 0 -3.5 0zM166.35 183a1.75 1.75 0 1 0 3.5 0a1.75 1.75 0 1 0 -3.5 0zM178.25 205a1.75 1.75 0 1 0 3.5 0a1.75 1.75 0 1 0 -3.5 0zM174.25 203.9a1.75 1.75 0 1 0 3.5 0a1.75 1.75 0 1 0 -3.5 0zM170.25 204.4a1.75 1.75 0 1 0 3.5 0a1.75 1.75 0 1 0 -3.5 0zM151.55 199.7a1.75 1.75 0 1 0 3.5 0a1.75 1.75 0 1 0 -3.5 0zM167.45 177a1.75 1.75 0 1 0 3.5 0a1.75 1.75 0 1 0 -3.5 0zM139.95 195.7a1.75 1.75 0 1 0 3.5 0a1.75 1.75 0 1 0 -3.5 0zM154.85 195.7a1.75 1.75 0 1 0 3.5 0a1.75 1.75 0 1 0 -3.5 0zM140.95 185.25a1.75 1.75 0 1 0 3.5 0a1.75 1.75 0 1 0 -3.5 0zM152.85 185.7a1.75 1.75 0 1 0 3.5 0a1.75 1.75 0 1 0 -3.5 0zM155.85 185.25a1.75 1.75 0 1 0 3.5 0a1.75 1.75 0 1 0 -3.5 0zM152.35 189.2a1.75 1.75 0 1 0 3.5 0a1.75 1.75 0 1 0 -3.5 0zM121.85 198.9a1.75 1.75 0 1 0 3.5 0a1.75 1.75 0 1 0 -3.5 0zM137.15 169.9a1.75 1.75 0 1 0 3.5 0a1.75 1.75 0 1 0 -3.5 0zM157.05 169.9a1.75 1.75 0 1 0 3.5 0a1.75 1.75 0 1 0 -3.5 0zM116.25 167.9a1.75 1.75 0 1 0 3.5 0a1.75 1.75 0 1 0 -3.5 0zM96.65 192a1.75 1.75 0 1 0 3.5 0a1.75 1.75 0 1 0 -3.5 0zM105.35 182.6a1.75 1.75 0 1 0 3.5 0a1.75 1.75 0 1 0 -3.5 0zM110.25 196a1.75 1.75 0 1 0 3.5 0a1.75 1.75 0 1 0 -3.5 0zM114.05 216a1.75 1.75 0 1 0 3.5 0a1.75 1.75 0 1 0 -3.5 0zM111.85 170.5a1.75 1.75 0 1 0 3.5 0a1.75 1.75 0 1 0 -3.5 0zM117.05 172a1.75 1.75 0 1 0 3.5 0a1.75 1.75 0 1 0 -3.5 0zM114.15 144a1.75 1.75 0 1 0 3.5 0a1.75 1.75 0 1 0 -3.5 0zM113.95 146.9a1.75 1.75 0 1 0 3.5 0a1.75 1.75 0 1 0 -3.5 0zM122.85 144a1.75 1.75 0 1 0 3.5 0a1.75 1.75 0 1 0 -3.5 0zM130.25 155a1.75 1.75 0 1 0 3.5 0a1.75 1.75 0 1 0 -3.5 0zM135.65 148.9a1.75 1.75 0 1 0 3.5 0a1.75 1.75 0 1 0 -3.5 0zM145.15 148.1a1.75 1.75 0 1 0 3.5 0a1.75 1.75 0 1 0 -3.5 0zM139.75 155.5a1.75 1.75 0 1 0 3.5 0a1.75 1.75 0 1 0 -3.5 0zM129.05 163a1.75 1.75 0 1 0 3.5 0a1.75 1.75 0 1 0 -3.5 0zM134.75 163a1.75 1.75 0 1 0 3.5 0a1.75 1.75 0 1 0 -3.5 0zM141.45 162.2a1.75 1.75 0 1 0 3.5 0a1.75 1.75 0 1 0 -3.5 0zM111.15 184.6a1.75 1.75 0 1 0 3.5 0a1.75 1.75 0 1 0 -3.5 0zM149.75 182.7a1.75 1.75 0 1 0 3.5 0a1.75 1.75 0 1 0 -3.5 0zM126.35 168.1a1.75 1.75 0 1 0 3.5 0a1.75 1.75 0 1 0 -3.5 0zM144.75 191.4a1.75 1.75 0 1 0 3.5 0a1.75 1.75 0 1 0 -3.5 0zM161.85 189.3a1.75 1.75 0 1 0 3.5 0a1.75 1.75 0 1 0 -3.5 0zM125.75 191.6a1.75 1.75 0 1 0 3.5 0a1.75 1.75 0 1 0 -3.5 0zM167.25 191.1a1.75 1.75 0 1 0 3.5 0a1.75 1.75 0 1 0 -3.5 0zM172.85 179.8a1.75 1.75 0 1 0 3.5 0a1.75 1.75 0 1 0 -3.5 0zM143.45 189.1a1.75 1.75 0 1 0 3.5 0a1.75 1.75 0 1 0 -3.5 0zM132.55 178.6a1.75 1.75 0 1 0 3.5 0a1.75 1.75 0 1 0 -3.5 0zM120.75 188.7a1.75 1.75 0 1 0 3.5 0a1.75 1.75 0 1 0 -3.5 0zM131.25 183.8a1.75 1.75 0 1 0 3.5 0a1.75 1.75 0 1 0 -3.5 0zM157.65 179.6a1.75 1.75 0 1 0 3.5 0a1.75 1.75 0 1 0 -3.5 0zM125.45 166.7a1.75 1.75 0 1 0 3.5 0a1.75 1.75 0 1 0 -3.5 0zM121.75 192a1.75 1.75 0 1 0 3.5 0a1.75 1.75 0 1 0 -3.5 0zM163.55 185.6a1.75 1.75 0 1 0 3.5 0a1.75 1.75 0 1 0 -3.5 0zM137.15 193.4a1.75 1.75 0 1 0 3.5 0a1.75 1.75 0 1 0 -3.5 0zM150.45 190.4a1.75 1.75 0 1 0 3.5 0a1.75 1.75 0 1 0 -3.5 0zM146.75 184a1.75 1.75 0 1 0 3.5 0a1.75 1.75 0 1 0 -3.5 0zM151.05 185.9a1.75 1.75 0 1 0 3.5 0a1.75 1.75 0 1 0 -3.5 0zM98.25 186.1a1.75 1.75 0 1 0 3.5 0a1.75 1.75 0 1 0 -3.5 0zM152.25 203.7a1.75 1.75 0 1 0 3.5 0a1.75 1.75 0 1 0 -3.5 0zM133.95 160a1.75 1.75 0 1 0 3.5 0a1.75 1.75 0 1 0 -3.5 0zM136.15 172a1.75 1.75 0 1 0 3.5 0a1.75 1.75 0 1 0 -3.5 0zM155.75 185.8a1.75 1.75 0 1 0 3.5 0a1.75 1.75 0 1 0 -3.5 0zM130.75 181.9a1.75 1.75 0 1 0 3.5 0a1.75 1.75 0 1 0 -3.5 0zM145.55 168.3a1.75 1.75 0 1 0 3.5 0a1.75 1.75 0 1 0 -3.5 0zM112.05 184.2a1.75 1.75 0 1 0 3.5 0a1.75 1.75 0 1 0 -3.5 0zM141.75 178a1.75 1.75 0 1 0 3.5 0a1.75 1.75 0 1 0 -3.5 0zM127.45 208a1.75 1.75 0 1 0 3.5 0a1.75 1.75 0 1 0 -3.5 0zM131.15 174.7a1.75 1.75 0 1 0 3.5 0a1.75 1.75 0 1 0 -3.5 0zM124.25 166.5a1.75 1.75 0 1 0 3.5 0a1.75 1.75 0 1 0 -3.5 0zM123.85 185.9a1.75 1.75 0 1 0 3.5 0a1.75 1.75 0 1 0 -3.5 0zM113.45 176.3a1.75 1.75 0 1 0 3.5 0a1.75 1.75 0 1 0 -3.5 0zM135.35 170.6a1.75 1.75 0 1 0 3.5 0a1.75 1.75 0 1 0 -3.5 0zM139.35 167.9a1.75 1.75 0 1 0 3.5 0a1.75 1.75 0 1 0 -3.5 0zM132.45 167.9a1.75 1.75 0 1 0 3.5 0a1.75 1.75 0 1 0 -3.5 0zM157.75 170.8a1.75 1.75 0 1 0 3.5 0a1.75 1.75 0 1 0 -3.5 0zM106.65 177.8a1.75 1.75 0 1 0 3.5 0a1.75 1.75 0 1 0 -3.5 0zM125.85 189.6a1.75 1.75 0 1 0 3.5 0a1.75 1.75 0 1 0 -3.5 0zM112.65 178a1.75 1.75 0 1 0 3.5 0a1.75 1.75 0 1 0 -3.5 0zM129.35 171.5a1.75 1.75 0 1 0 3.5 0a1.75 1.75 0 1 0 -3.5 0zM123.35 197a1.75 1.75 0 1 0 3.5 0a1.75 1.75 0 1 0 -3.5 0zM124.85 197.7a1.75 1.75 0 1 0 3.5 0a1.75 1.75 0 1 0 -3.5 0zM148.25 177.8a1.75 1.75 0 1 0 3.5 0a1.75 1.75 0 1 0 -3.5 0zM124.85 184.4a1.75 1.75 0 1 0 3.5 0a1.75 1.75 0 1 0 -3.5 0zM135.25 191.8a1.75 1.75 0 1 0 3.5 0a1.75 1.75 0 1 0 -3.5 0zM125.95 188.9a1.75 1.75 0 1 0 3.5 0a1.75 1.75 0 1 0 -3.5 0zM140.85 206.2a1.75 1.75 0 1 0 3.5 0a1.75 1.75 0 1 0 -3.5 0zM143.65 192.5a1.75 1.75 0 1 0 3.5 0a1.75 1.75 0 1 0 -3.5 0zM141.75 83.1a1.75 1.75 0 1 0 3.5 0a1.75 1.75 0 1 0 -3.5 0z" fill="#00ff00" stroke="none"/></g>
<g id="frame" stroke="#666666" fill="none"><rect x="0" y="0" width="321.7" height="321.7" stroke-width="1.2"/><path d="M0 321.7v-3.8M0 0v3.8M12.87 321.7v-2.3M12.87 0v2.3M25.74 321.7v-2.3M25.74 0v2.3M38.6 321.7v-2.3M38.6 0v2.3M51.47 321.7v-2.3M51.47 0v2.3M64.34 321.7v-3.8M64.34 0v3.8M77.21 321.7v-2.3M77.21 0v2.3M90.08 321.7v-2.3M90.08 0v2.3M102.94 321.7v-2.3M102.94 0v2.3M115.81 321.7v-2.3M115.81 0v2.3M128.68 321.7v-3.8M128.68 0v3.8M141.55 321.7v-2.3M141.55 0v2.3M154.42 321.7v-2.3M154.42 0v2.3M167.28 321.7v-2.3M167.28 0v2.3M180.15 321.7v-2.3M180.15 0v2.3M193.02 321.7v-3.8M193.02 0v3.8M205.89 321.7v-2.3M205.89 0v2.3M218.76 321.7v-2.3M218.76 0v2.3M231.62 321.7v-2.3M231.62 0v2.3M244.49 321.7v-2.3M244.49 0v2.3M257.36 321.7v-3.8M257.36 0v3.8M270.23 321.7v-2.3M270.23 0v2.3M283.1 321.7v-2.3M283.1 0v2.3M295.96 321.7v-2.3M295.96 0v2.3M308.83 321.7v-2.3M308.83 0v2.3M321.7 321.7v-3.8M321.7 0v3.8M0 321.7h3.8M321.7 321.7h-3.8M0 312.51h2.3M321.7 312.51h-2.3M0 303.32h2.3M321.7 303.32h-2.3M0 294.13h2.3M321.7 294.13h-2.3M0 284.93h2.3M321.7 284.93h-2.3M0 275.74h3.8M321.7 275.74h-3.8M0 266.55h2.3M321.7 266.55h-2.3M0 257.36h2.3M321.7 257.36h-2.3M0 248.17h2.3M321.7 248.17h-2.3M0 238.98h2.3M321.7 238.98h-2.3M0 229.79h3.8M321.7 229.79h-3.8M0 220.59h2.3M321.7 220.59h-2.3M0 211.4h2.3M321.7 211.4h-2.3M0 202.21h2.3M321.7 202.21h-2.3M0 193.02h2.3M321.7 193.02h-2.3M0 183.83h3.8M321.7 183.83h-3.8M0 174.64h2.3M321.7 174.64h-2.3M0 165.45h2.3M321.7 165.45h-2.3M0 156.25h2.3M321.7 156.25h-2.3M0 147.06h2.3M321.7 147.06h-2.3M0 137.87h3.8M321.7 137.87h-3.8M0 128.68h2.3M321.7 128.68h-2.3M0 119.49h2.3M321.7 119.49h-2.3M0 110.3h2.3M321.7 110.3h-2.3M0 101.11h2.3M321.7 101.11h-2.3M0 91.91h3.8M321.7 91.91h-3.8M0 82.72h2.3M321.7 82.72h-2.3M0 73.53h2.3M321.7 73.53h-2.3M0 64.34h2.3M321.7 64.34h-2.3M0 55.15h2.3M321.7 55.15h-2.3M0 45.96h3.8M321.7 45.96h-3.8M0 36.77h2.3M321.7 36.77h-2.3M0 27.57h2.3M321.7 27.57h-2.3M0 18.38h2.3M321.7 18.38h-2.3M0 9.19h2.3M321.7 9.19h-2.3M0 0h3.8M321.7 0h-3.8" stroke-width="1"/></g><g id="labels" fill="#666666" font-weight="bold" font-size="18" stroke="#666666" stroke-width="0.05"><text x="-10.66" y="339.9" font-size="18">−</text><path d="M6.94 339.9L4.46 339.9L4.46 330.57Q3.1 331.83 1.27 332.44L1.27 330.19Q2.23 329.87 3.37 328.99Q4.5 328.1 4.92 326.93L6.94 326.93z"/><text x="59.43" y="339.9" font-size="18">0</text><path d="M130.86 339.9L128.38 339.9L128.38 330.57Q127.03 331.83 125.19 332.44L125.19 330.19Q126.16 329.87 127.29 328.99Q128.42 328.1 128.85 326.93L130.86 326.93z"/><text x="188.11" y="339.9" font-size="18">2</text><text x="252.45" y="339.9" font-size="18">3</text><text x="316.79" y="339.9" font-size="18">4</text><text x="-22.72" y="327.3" font-size="18">−2</text><text x="-22.22" y="281.34" font-size="18">−</text><path d="M-4.63 281.34L-7.1 281.34L-7.1 272.01Q-8.46 273.28 -10.3 273.88L-10.3 271.63Q-9.33 271.32 -8.2 270.43Q-7.06 269.55 -6.64 268.37L-4.63 268.37z"/><text x="-12.21" y="235.39" font-size="18">0</text><path d="M-4.63 189.43L-7.1 189.43L-7.1 180.09Q-8.46 181.36 -10.3 181.97L-10.3 179.72Q-9.33 179.4 -8.2 178.52Q-7.06 177.63 -6.64 176.46L-4.63 176.46z"/><text x="-12.21" y="143.47" font-size="18">2</text><text x="-12.21" y="97.51" font-size="18">3</text><text x="-12.21" y="51.56" font-size="18">4</text><text x="-12.21" y="5.6" font-size="18">5</text><text x="161.35" y="364.7" text-anchor="middle" font-style="italic" font-size="16.2">β</text><text x="-33.8" y="166.8" text-anchor="middle" font-style="italic" font-size="16.2">α</text></g>
</defs>
<g transform="translate(50.5 22.2)"><use href="#gA"/><g stroke="#800080" fill="none" stroke-width="1.0" stroke-dasharray="3.2 2.7"><ellipse cx="88.5" cy="168.1" rx="16.5" ry="8.9"/></g><g stroke="#780878" fill="none" stroke-width="1.15"><path d="M72 168.1H105M88.5 159.2V177M72 165.4V170.8M105 165.4V170.8M85.8 159.2H91.2M85.8 177H91.2"/><path d="M86.2 168.1a2.3 2.3 0 1 0 4.6 0a2.3 2.3 0 1 0 -4.6 0z" fill="#780878" stroke="none"/></g><circle cx="85.79" cy="168.51" r="3.3" fill="#ff0000"/><g fill="#000" font-weight="bold" stroke="#000" stroke-width="0.12"><text x="236.7" y="28.8" font-size="22">N</text><path d="M253.51 19.82h11V22.27h-11zM253.51 24.75h11V27.06h-11z"/><path d="M274.09 28.8L271.07 28.8L271.07 17.39Q269.41 18.94 267.16 19.68L267.16 16.93Q268.35 16.54 269.73 15.46Q271.12 14.38 271.63 12.94L274.09 12.94z"/></g><circle cx="114.2" cy="70.8" r="3.3" fill="#ff0000"/><g fill="#000" font-weight="bold" stroke="#000" stroke-width="0.18"><text x="131.86" y="74.15" font-size="27" font-style="italic">α</text><path d="M157.7 62.9h13v3h-13zM157.7 68.9h13v3h-13z"/><text x="179.75" y="73.4" font-size="25.2">4</text><text x="194.47" y="73.3" font-size="25.8" font-style="italic">β</text><text x="209.49" y="73.4" font-size="25.2">,</text><text x="224.67" y="73.3" font-size="25.8" font-style="italic">β</text><path d="M248.5 62.9h13v3h-13zM248.5 68.9h13v3h-13z"/><path d="M280.34 73.4L276.87 73.4L276.87 60.33Q274.97 62.11 272.4 62.95L272.4 59.8Q273.75 59.36 275.34 58.12Q276.93 56.89 277.52 55.24L280.34 55.24z"/><text x="283.5" y="73.4" font-size="25.2">/</text><text x="291.9" y="73.4" font-size="25.2">3</text></g><use href="#frame"/><use href="#labels"/></g>
<g transform="translate(457 22.2)"><use href="#gA"/><g stroke="#800080" fill="none" stroke-width="1.0" stroke-dasharray="3.2 2.7"><ellipse cx="174.9" cy="118.3" rx="26.6" ry="81.9"/><ellipse cx="158" cy="131.5" rx="6" ry="84"/><ellipse cx="147.3" cy="203.3" rx="9.5" ry="112.4"/><ellipse cx="210.3" cy="191.6" rx="43.6" ry="7.2"/><ellipse cx="189" cy="174.3" rx="34.7" ry="2.7"/><ellipse cx="183.7" cy="180" rx="18.1" ry="9.5"/><ellipse cx="168.1" cy="183" rx="37.2" ry="2"/><ellipse cx="153.3" cy="199.7" rx="16" ry="12.5"/><ellipse cx="143.5" cy="209.5" rx="29.5" ry="12"/><ellipse cx="172" cy="204.4" rx="31.7" ry="10"/><ellipse cx="176" cy="203.9" rx="18.3" ry="11.7"/><ellipse cx="180" cy="205" rx="28" ry="4.1"/><ellipse cx="127.1" cy="216.4" rx="15" ry="28.2"/><ellipse cx="134.6" cy="216.4" rx="10" ry="12.5"/><ellipse cx="139.6" cy="220.6" rx="12" ry="26.6"/><ellipse cx="115.7" cy="220.6" rx="36.6" ry="5.3"/></g><g stroke="#780878" fill="none" stroke-width="1.15"><path d="M148.3 118.3H201.5M174.9 36.4V200.2M148.3 115.6V121M201.5 115.6V121M172.2 36.4H177.6M172.2 200.2H177.6M152 131.5H164M158 47.5V215.5M152 128.8V134.2M164 128.8V134.2M155.3 47.5H160.7M155.3 215.5H160.7M137.8 203.3H156.8M147.3 90.9V315.7M137.8 200.6V206M156.8 200.6V206M144.6 90.9H150M144.6 315.7H150M166.7 191.6H253.9M210.3 184.4V198.8M166.7 188.9V194.3M253.9 188.9V194.3M207.6 184.4H213M207.6 198.8H213M154.3 174.3H223.7M189 171.6V177M154.3 171.6V177M223.7 171.6V177M186.3 171.6H191.7M186.3 177H191.7M165.6 180H201.8M183.7 170.5V189.5M165.6 177.3V182.7M201.8 177.3V182.7M181 170.5H186.4M181 189.5H186.4M130.9 183H205.3M168.1 181V185M130.9 180.3V185.7M205.3 180.3V185.7M165.4 181H170.8M165.4 185H170.8M137.3 199.7H169.3M153.3 187.2V212.2M137.3 197V202.4M169.3 197V202.4M150.6 187.2H156M150.6 212.2H156M114 209.5H173M143.5 197.5V221.5M114 206.8V212.2M173 206.8V212.2M140.8 197.5H146.2M140.8 221.5H146.2M140.3 204.4H203.7M172 194.4V214.4M140.3 201.7V207.1M203.7 201.7V207.1M169.3 194.4H174.7M169.3 214.4H174.7M157.7 203.9H194.3M176 192.2V215.6M157.7 201.2V206.6M194.3 201.2V206.6M173.3 192.2H178.7M173.3 215.6H178.7M152 205H208M180 200.9V209.1M152 202.3V207.7M208 202.3V207.7M177.3 200.9H182.7M177.3 209.1H182.7M112.1 216.4H142.1M127.1 188.2V244.6M112.1 213.7V219.1M142.1 213.7V219.1M124.4 188.2H129.8M124.4 244.6H129.8M124.6 216.4H144.6M134.6 203.9V228.9M124.6 213.7V219.1M144.6 213.7V219.1M131.9 203.9H137.3M131.9 228.9H137.3M127.6 220.6H151.6M139.6 194V247.2M127.6 217.9V223.3M151.6 217.9V223.3M136.9 194H142.3M136.9 247.2H142.3M79.1 220.6H152.3M115.7 215.3V225.9M79.1 217.9V223.3M152.3 217.9V223.3M113 215.3H118.4M113 225.9H118.4"/><path d="M172.6 118.3a2.3 2.3 0 1 0 4.6 0a2.3 2.3 0 1 0 -4.6 0zM155.7 131.5a2.3 2.3 0 1 0 4.6 0a2.3 2.3 0 1 0 -4.6 0zM145 203.3a2.3 2.3 0 1 0 4.6 0a2.3 2.3 0 1 0 -4.6 0zM208 191.6a2.3 2.3 0 1 0 4.6 0a2.3 2.3 0 1 0 -4.6 0zM186.7 174.3a2.3 2.3 0 1 0 4.6 0a2.3 2.3 0 1 0 -4.6 0zM181.4 180a2.3 2.3 0 1 0 4.6 0a2.3 2.3 0 1 0 -4.6 0zM165.8 183a2.3 2.3 0 1 0 4.6 0a2.3 2.3 0 1 0 -4.6 0zM151 199.7a2.3 2.3 0 1 0 4.6 0a2.3 2.3 0 1 0 -4.6 0zM141.2 209.5a2.3 2.3 0 1 0 4.6 0a2.3 2.3 0 1 0 -4.6 0zM169.7 204.4a2.3 2.3 0 1 0 4.6 0a2.3 2.3 0 1 0 -4.6 0zM173.7 203.9a2.3 2.3 0 1 0 4.6 0a2.3 2.3 0 1 0 -4.6 0zM177.7 205a2.3 2.3 0 1 0 4.6 0a2.3 2.3 0 1 0 -4.6 0zM124.8 216.4a2.3 2.3 0 1 0 4.6 0a2.3 2.3 0 1 0 -4.6 0zM132.3 216.4a2.3 2.3 0 1 0 4.6 0a2.3 2.3 0 1 0 -4.6 0zM137.3 220.6a2.3 2.3 0 1 0 4.6 0a2.3 2.3 0 1 0 -4.6 0zM113.4 220.6a2.3 2.3 0 1 0 4.6 0a2.3 2.3 0 1 0 -4.6 0z" fill="#780878" stroke="none"/></g><g fill="#000" font-weight="bold" stroke="#000" stroke-width="0.12"><text x="230.6" y="28.8" font-size="22">N</text><path d="M247.41 19.82h11V22.27h-11zM247.41 24.75h11V27.06h-11z"/><path d="M267.99 28.8L264.97 28.8L264.97 17.39Q263.31 18.94 261.06 19.68L261.06 16.93Q262.25 16.54 263.63 15.46Q265.02 14.38 265.53 12.94L267.99 12.94z"/><text x="271.57" y="28.8" font-size="22">6</text></g><path d="M164.2 70.6H178.8" stroke="#ff0000" stroke-width="1.3"/><g fill="#000" font-weight="bold" stroke="#000" stroke-width="0.18"><text x="192.41" y="73.95" font-size="27" font-style="italic">α</text><path d="M218.1 62.7h13v3h-13zM218.1 68.7h13v3h-13z"/><text x="239.82" y="73.1" font-size="25.8" font-style="italic">β</text><rect x="256.6" y="65.3" width="13" height="3"/><path d="M281.44 73.2L277.97 73.2L277.97 60.13Q276.07 61.91 273.5 62.75L273.5 59.6Q274.85 59.16 276.44 57.92Q278.03 56.69 278.62 55.04L281.44 55.04z"/></g><path d="M128.68 229.79L321.7 91.91" stroke="#ff0000" stroke-width="1.3"/><use href="#frame"/><use href="#labels"/></g>
<g transform="translate(863.5 22.2)"><use href="#gA"/><g stroke="#800080" fill="none" stroke-width="1.0" stroke-dasharray="3.2 2.7"><ellipse cx="174.9" cy="118.3" rx="26.6" ry="81.9"/><ellipse cx="158" cy="131.5" rx="6" ry="84"/><ellipse cx="147.3" cy="203.3" rx="9.5" ry="112.4"/><ellipse cx="210.3" cy="191.6" rx="43.6" ry="7.2"/><ellipse cx="189" cy="174.3" rx="34.7" ry="2.7"/><ellipse cx="183.7" cy="180" rx="18.1" ry="9.5"/><ellipse cx="168.1" cy="183" rx="37.2" ry="2"/><ellipse cx="153.3" cy="199.7" rx="16" ry="12.5"/><ellipse cx="143.5" cy="209.5" rx="29.5" ry="12"/><ellipse cx="172" cy="204.4" rx="31.7" ry="10"/><ellipse cx="176" cy="203.9" rx="18.3" ry="11.7"/><ellipse cx="180" cy="205" rx="28" ry="4.1"/><ellipse cx="127.1" cy="216.4" rx="15" ry="28.2"/><ellipse cx="134.6" cy="216.4" rx="10" ry="12.5"/><ellipse cx="139.6" cy="220.6" rx="12" ry="26.6"/><ellipse cx="115.7" cy="220.6" rx="36.6" ry="5.3"/></g><g stroke="#780878" fill="none" stroke-width="1.15"><path d="M148.3 118.3H201.5M174.9 36.4V200.2M148.3 115.6V121M201.5 115.6V121M172.2 36.4H177.6M172.2 200.2H177.6M152 131.5H164M158 47.5V215.5M152 128.8V134.2M164 128.8V134.2M155.3 47.5H160.7M155.3 215.5H160.7M137.8 203.3H156.8M147.3 90.9V315.7M137.8 200.6V206M156.8 200.6V206M144.6 90.9H150M144.6 315.7H150M166.7 191.6H253.9M210.3 184.4V198.8M166.7 188.9V194.3M253.9 188.9V194.3M207.6 184.4H213M207.6 198.8H213M154.3 174.3H223.7M189 171.6V177M154.3 171.6V177M223.7 171.6V177M186.3 171.6H191.7M186.3 177H191.7M165.6 180H201.8M183.7 170.5V189.5M165.6 177.3V182.7M201.8 177.3V182.7M181 170.5H186.4M181 189.5H186.4M130.9 183H205.3M168.1 181V185M130.9 180.3V185.7M205.3 180.3V185.7M165.4 181H170.8M165.4 185H170.8M137.3 199.7H169.3M153.3 187.2V212.2M137.3 197V202.4M169.3 197V202.4M150.6 187.2H156M150.6 212.2H156M114 209.5H173M143.5 197.5V221.5M114 206.8V212.2M173 206.8V212.2M140.8 197.5H146.2M140.8 221.5H146.2M140.3 204.4H203.7M172 194.4V214.4M140.3 201.7V207.1M203.7 201.7V207.1M169.3 194.4H174.7M169.3 214.4H174.7M157.7 203.9H194.3M176 192.2V215.6M157.7 201.2V206.6M194.3 201.2V206.6M173.3 192.2H178.7M173.3 215.6H178.7M152 205H208M180 200.9V209.1M152 202.3V207.7M208 202.3V207.7M177.3 200.9H182.7M177.3 209.1H182.7M112.1 216.4H142.1M127.1 188.2V244.6M112.1 213.7V219.1M142.1 213.7V219.1M124.4 188.2H129.8M124.4 244.6H129.8M124.6 216.4H144.6M134.6 203.9V228.9M124.6 213.7V219.1M144.6 213.7V219.1M131.9 203.9H137.3M131.9 228.9H137.3M127.6 220.6H151.6M139.6 194V247.2M127.6 217.9V223.3M151.6 217.9V223.3M136.9 194H142.3M136.9 247.2H142.3M79.1 220.6H152.3M115.7 215.3V225.9M79.1 217.9V223.3M152.3 217.9V223.3M113 215.3H118.4M113 225.9H118.4"/><path d="M172.6 118.3a2.3 2.3 0 1 0 4.6 0a2.3 2.3 0 1 0 -4.6 0zM155.7 131.5a2.3 2.3 0 1 0 4.6 0a2.3 2.3 0 1 0 -4.6 0zM145 203.3a2.3 2.3 0 1 0 4.6 0a2.3 2.3 0 1 0 -4.6 0zM208 191.6a2.3 2.3 0 1 0 4.6 0a2.3 2.3 0 1 0 -4.6 0zM186.7 174.3a2.3 2.3 0 1 0 4.6 0a2.3 2.3 0 1 0 -4.6 0zM181.4 180a2.3 2.3 0 1 0 4.6 0a2.3 2.3 0 1 0 -4.6 0zM165.8 183a2.3 2.3 0 1 0 4.6 0a2.3 2.3 0 1 0 -4.6 0zM151 199.7a2.3 2.3 0 1 0 4.6 0a2.3 2.3 0 1 0 -4.6 0zM141.2 209.5a2.3 2.3 0 1 0 4.6 0a2.3 2.3 0 1 0 -4.6 0zM169.7 204.4a2.3 2.3 0 1 0 4.6 0a2.3 2.3 0 1 0 -4.6 0zM173.7 203.9a2.3 2.3 0 1 0 4.6 0a2.3 2.3 0 1 0 -4.6 0zM177.7 205a2.3 2.3 0 1 0 4.6 0a2.3 2.3 0 1 0 -4.6 0zM124.8 216.4a2.3 2.3 0 1 0 4.6 0a2.3 2.3 0 1 0 -4.6 0zM132.3 216.4a2.3 2.3 0 1 0 4.6 0a2.3 2.3 0 1 0 -4.6 0zM137.3 220.6a2.3 2.3 0 1 0 4.6 0a2.3 2.3 0 1 0 -4.6 0zM113.4 220.6a2.3 2.3 0 1 0 4.6 0a2.3 2.3 0 1 0 -4.6 0z" fill="#780878" stroke="none"/></g><g fill="#000" font-weight="bold" stroke="#000" stroke-width="0.12"><text x="230.6" y="28.8" font-size="22">N</text><path d="M247.41 19.82h11V22.27h-11zM247.41 24.75h11V27.06h-11z"/><path d="M267.99 28.8L264.97 28.8L264.97 17.39Q263.31 18.94 261.06 19.68L261.06 16.93Q262.25 16.54 263.63 15.46Q265.02 14.38 265.53 12.94L267.99 12.94z"/><text x="271.57" y="28.8" font-size="22">6</text></g><path d="M164.2 70.6H178.8" stroke="#ff0000" stroke-width="1.3"/><g fill="#000" font-weight="bold" stroke="#000" stroke-width="0.18"><text x="192.41" y="73.95" font-size="27" font-style="italic">α</text><path d="M218.1 62.7h13v3h-13zM218.1 68.7h13v3h-13z"/><text x="239.82" y="73.1" font-size="25.8" font-style="italic">β</text><rect x="256.6" y="65.3" width="13" height="3"/><path d="M281.44 73.2L277.97 73.2L277.97 60.13Q276.07 61.91 273.5 62.75L273.5 59.6Q274.85 59.16 276.44 57.92Q278.03 56.69 278.62 55.04L281.44 55.04z"/></g><path d="M128.68 229.79L321.7 91.91" stroke="#ff0000" stroke-width="1.3"/><use href="#frame"/><use href="#labels"/></g>
<g transform="translate(50.5 428.2)"><use href="#gA"/><g stroke="#800080" fill="none" stroke-width="1.0" stroke-dasharray="3.2 2.7"></g><g stroke="#780878" fill="none" stroke-width="1.15"><path d=""/><path d="" fill="#780878" stroke="none"/></g><circle cx="85.79" cy="183.83" r="1.9" fill="#ff0000"/><g fill="#000" font-weight="bold" stroke="#000" stroke-width="0.12"><text x="236.7" y="28.8" font-size="22">N</text><path d="M253.51 19.82h11V22.27h-11zM253.51 24.75h11V27.06h-11z"/><text x="265.44" y="28.8" font-size="22">0</text></g><circle cx="182.45" cy="70.8" r="1.9" fill="#ff0000"/><g fill="#000" font-weight="bold" stroke="#000" stroke-width="0.18"><text x="200.16" y="73.75" font-size="27" font-style="italic">α</text><path d="M218.6 62.5h13v3h-13zM218.6 68.5h13v3h-13z"/><text x="240.4" y="73" font-size="25.2">3</text><text x="254.77" y="72.9" font-size="25.8" font-style="italic">β</text></g><use href="#frame"/><use href="#labels"/></g>
<g transform="translate(457 428.2)"><use href="#gA"/><g stroke="#800080" fill="none" stroke-width="1.0" stroke-dasharray="3.2 2.7"><ellipse cx="158" cy="131.5" rx="6" ry="84"/><ellipse cx="174.9" cy="118.3" rx="26.6" ry="81.9"/><ellipse cx="147.3" cy="203.3" rx="9.5" ry="112.4"/><ellipse cx="97.1" cy="224.1" rx="20.2" ry="14.8"/><ellipse cx="83.9" cy="237.1" rx="22.5" ry="15.9"/><ellipse cx="115.7" cy="220.6" rx="36.6" ry="5.3"/><ellipse cx="127.1" cy="216.4" rx="15" ry="28.2"/><ellipse cx="134.6" cy="216.4" rx="10" ry="12.5"/><ellipse cx="139.6" cy="220.6" rx="12" ry="26.6"/><ellipse cx="143.5" cy="209.5" rx="29.5" ry="12"/><ellipse cx="130.8" cy="204.5" rx="14" ry="19"/><ellipse cx="115.8" cy="196.9" rx="32" ry="23"/><ellipse cx="189" cy="174.3" rx="34.7" ry="2.7"/><ellipse cx="183.2" cy="163.2" rx="24.5" ry="1.5"/><ellipse cx="179.8" cy="171.8" rx="22.6" ry="1.5"/><ellipse cx="183.7" cy="180" rx="18.1" ry="9.5"/><ellipse cx="168.1" cy="183" rx="37.2" ry="2"/><ellipse cx="172" cy="204.4" rx="31.7" ry="10"/><ellipse cx="153.3" cy="199.7" rx="16" ry="12.5"/><ellipse cx="169.2" cy="177" rx="20" ry="6"/><ellipse cx="141.7" cy="195.7" rx="18" ry="9"/><ellipse cx="156.6" cy="195.7" rx="22" ry="7"/><ellipse cx="154.6" cy="185.7" rx="24" ry="6"/><ellipse cx="157.6" cy="185.25" rx="15" ry="10"/><ellipse cx="154.1" cy="189.2" rx="19" ry="5"/><ellipse cx="115.8" cy="216" rx="4" ry="10"/><ellipse cx="163.6" cy="189.3" rx="5.7" ry="6.4"/><ellipse cx="169" cy="191.1" rx="10.1" ry="3.5"/><ellipse cx="174.6" cy="179.8" rx="6.1" ry="5.1"/><ellipse cx="165.3" cy="185.6" rx="9.3" ry="5.6"/><ellipse cx="152.2" cy="190.4" rx="6.8" ry="6.5"/><ellipse cx="157.5" cy="185.8" rx="14.8" ry="8"/><ellipse cx="129.2" cy="208" rx="10.2" ry="6.5"/><ellipse cx="142.6" cy="206.2" rx="10" ry="6.5"/><ellipse cx="145.4" cy="192.5" rx="11.1" ry="7.2"/></g><g stroke="#780878" fill="none" stroke-width="1.15"><path d="M152 131.5H164M158 47.5V215.5M152 128.8V134.2M164 128.8V134.2M155.3 47.5H160.7M155.3 215.5H160.7M148.3 118.3H201.5M174.9 36.4V200.2M148.3 115.6V121M201.5 115.6V121M172.2 36.4H177.6M172.2 200.2H177.6M137.8 203.3H156.8M147.3 90.9V315.7M137.8 200.6V206M156.8 200.6V206M144.6 90.9H150M144.6 315.7H150M76.9 224.1H117.3M97.1 209.3V238.9M76.9 221.4V226.8M117.3 221.4V226.8M94.4 209.3H99.8M94.4 238.9H99.8M61.4 237.1H106.4M83.9 221.2V253M61.4 234.4V239.8M106.4 234.4V239.8M81.2 221.2H86.6M81.2 253H86.6M79.1 220.6H152.3M115.7 215.3V225.9M79.1 217.9V223.3M152.3 217.9V223.3M113 215.3H118.4M113 225.9H118.4M112.1 216.4H142.1M127.1 188.2V244.6M112.1 213.7V219.1M142.1 213.7V219.1M124.4 188.2H129.8M124.4 244.6H129.8M124.6 216.4H144.6M134.6 203.9V228.9M124.6 213.7V219.1M144.6 213.7V219.1M131.9 203.9H137.3M131.9 228.9H137.3M127.6 220.6H151.6M139.6 194V247.2M127.6 217.9V223.3M151.6 217.9V223.3M136.9 194H142.3M136.9 247.2H142.3M114 209.5H173M143.5 197.5V221.5M114 206.8V212.2M173 206.8V212.2M140.8 197.5H146.2M140.8 221.5H146.2M116.8 204.5H144.8M130.8 185.5V223.5M116.8 201.8V207.2M144.8 201.8V207.2M128.1 185.5H133.5M128.1 223.5H133.5M83.8 196.9H147.8M115.8 173.9V219.9M83.8 194.2V199.6M147.8 194.2V199.6M113.1 173.9H118.5M113.1 219.9H118.5M154.3 174.3H223.7M189 171.6V177M154.3 171.6V177M223.7 171.6V177M186.3 171.6H191.7M186.3 177H191.7M158.7 163.2H207.7M183.2 161.7V164.7M158.7 160.5V165.9M207.7 160.5V165.9M180.5 161.7H185.9M180.5 164.7H185.9M157.2 171.8H202.4M179.8 170.3V173.3M157.2 169.1V174.5M202.4 169.1V174.5M177.1 170.3H182.5M177.1 173.3H182.5M165.6 180H201.8M183.7 170.5V189.5M165.6 177.3V182.7M201.8 177.3V182.7M181 170.5H186.4M181 189.5H186.4M130.9 183H205.3M168.1 181V185M130.9 180.3V185.7M205.3 180.3V185.7M165.4 181H170.8M165.4 185H170.8M140.3 204.4H203.7M172 194.4V214.4M140.3 201.7V207.1M203.7 201.7V207.1M169.3 194.4H174.7M169.3 214.4H174.7M137.3 199.7H169.3M153.3 187.2V212.2M137.3 197V202.4M169.3 197V202.4M150.6 187.2H156M150.6 212.2H156M149.2 177H189.2M169.2 171V183M149.2 174.3V179.7M189.2 174.3V179.7M166.5 171H171.9M166.5 183H171.9M123.7 195.7H159.7M141.7 186.7V204.7M123.7 193V198.4M159.7 193V198.4M139 186.7H144.4M139 204.7H144.4M134.6 195.7H178.6M156.6 188.7V202.7M134.6 193V198.4M178.6 193V198.4M153.9 188.7H159.3M153.9 202.7H159.3M130.6 185.7H178.6M154.6 179.7V191.7M130.6 183V188.4M178.6 183V188.4M151.9 179.7H157.3M151.9 191.7H157.3M142.6 185.25H172.6M157.6 175.25V195.25M142.6 182.55V187.95M172.6 182.55V187.95M154.9 175.25H160.3M154.9 195.25H160.3M135.1 189.2H173.1M154.1 184.2V194.2M135.1 186.5V191.9M173.1 186.5V191.9M151.4 184.2H156.8M151.4 194.2H156.8M111.8 216H119.8M115.8 206V226M111.8 213.3V218.7M119.8 213.3V218.7M113.1 206H118.5M113.1 226H118.5M157.9 189.3H169.3M163.6 182.9V195.7M157.9 186.6V192M169.3 186.6V192M160.9 182.9H166.3M160.9 195.7H166.3M158.9 191.1H179.1M169 187.6V194.6M158.9 188.4V193.8M179.1 188.4V193.8M166.3 187.6H171.7M166.3 194.6H171.7M168.5 179.8H180.7M174.6 174.7V184.9M168.5 177.1V182.5M180.7 177.1V182.5M171.9 174.7H177.3M171.9 184.9H177.3M156 185.6H174.6M165.3 180V191.2M156 182.9V188.3M174.6 182.9V188.3M162.6 180H168M162.6 191.2H168M145.4 190.4H159M152.2 183.9V196.9M145.4 187.7V193.1M159 187.7V193.1M149.5 183.9H154.9M149.5 196.9H154.9M142.7 185.8H172.3M157.5 177.8V193.8M142.7 183.1V188.5M172.3 183.1V188.5M154.8 177.8H160.2M154.8 193.8H160.2M119 208H139.4M129.2 201.5V214.5M119 205.3V210.7M139.4 205.3V210.7M126.5 201.5H131.9M126.5 214.5H131.9M132.6 206.2H152.6M142.6 199.7V212.7M132.6 203.5V208.9M152.6 203.5V208.9M139.9 199.7H145.3M139.9 212.7H145.3M134.3 192.5H156.5M145.4 185.3V199.7M134.3 189.8V195.2M156.5 189.8V195.2M142.7 185.3H148.1M142.7 199.7H148.1"/><path d="M155.7 131.5a2.3 2.3 0 1 0 4.6 0a2.3 2.3 0 1 0 -4.6 0zM172.6 118.3a2.3 2.3 0 1 0 4.6 0a2.3 2.3 0 1 0 -4.6 0zM145 203.3a2.3 2.3 0 1 0 4.6 0a2.3 2.3 0 1 0 -4.6 0zM94.8 224.1a2.3 2.3 0 1 0 4.6 0a2.3 2.3 0 1 0 -4.6 0zM81.6 237.1a2.3 2.3 0 1 0 4.6 0a2.3 2.3 0 1 0 -4.6 0zM113.4 220.6a2.3 2.3 0 1 0 4.6 0a2.3 2.3 0 1 0 -4.6 0zM124.8 216.4a2.3 2.3 0 1 0 4.6 0a2.3 2.3 0 1 0 -4.6 0zM132.3 216.4a2.3 2.3 0 1 0 4.6 0a2.3 2.3 0 1 0 -4.6 0zM137.3 220.6a2.3 2.3 0 1 0 4.6 0a2.3 2.3 0 1 0 -4.6 0zM141.2 209.5a2.3 2.3 0 1 0 4.6 0a2.3 2.3 0 1 0 -4.6 0zM128.5 204.5a2.3 2.3 0 1 0 4.6 0a2.3 2.3 0 1 0 -4.6 0zM113.5 196.9a2.3 2.3 0 1 0 4.6 0a2.3 2.3 0 1 0 -4.6 0zM186.7 174.3a2.3 2.3 0 1 0 4.6 0a2.3 2.3 0 1 0 -4.6 0zM180.9 163.2a2.3 2.3 0 1 0 4.6 0a2.3 2.3 0 1 0 -4.6 0zM177.5 171.8a2.3 2.3 0 1 0 4.6 0a2.3 2.3 0 1 0 -4.6 0zM181.4 180a2.3 2.3 0 1 0 4.6 0a2.3 2.3 0 1 0 -4.6 0zM165.8 183a2.3 2.3 0 1 0 4.6 0a2.3 2.3 0 1 0 -4.6 0zM169.7 204.4a2.3 2.3 0 1 0 4.6 0a2.3 2.3 0 1 0 -4.6 0zM151 199.7a2.3 2.3 0 1 0 4.6 0a2.3 2.3 0 1 0 -4.6 0zM166.9 177a2.3 2.3 0 1 0 4.6 0a2.3 2.3 0 1 0 -4.6 0zM139.4 195.7a2.3 2.3 0 1 0 4.6 0a2.3 2.3 0 1 0 -4.6 0zM154.3 195.7a2.3 2.3 0 1 0 4.6 0a2.3 2.3 0 1 0 -4.6 0zM152.3 185.7a2.3 2.3 0 1 0 4.6 0a2.3 2.3 0 1 0 -4.6 0zM155.3 185.25a2.3 2.3 0 1 0 4.6 0a2.3 2.3 0 1 0 -4.6 0zM151.8 189.2a2.3 2.3 0 1 0 4.6 0a2.3 2.3 0 1 0 -4.6 0zM113.5 216a2.3 2.3 0 1 0 4.6 0a2.3 2.3 0 1 0 -4.6 0zM161.3 189.3a2.3 2.3 0 1 0 4.6 0a2.3 2.3 0 1 0 -4.6 0zM166.7 191.1a2.3 2.3 0 1 0 4.6 0a2.3 2.3 0 1 0 -4.6 0zM172.3 179.8a2.3 2.3 0 1 0 4.6 0a2.3 2.3 0 1 0 -4.6 0zM163 185.6a2.3 2.3 0 1 0 4.6 0a2.3 2.3 0 1 0 -4.6 0zM149.9 190.4a2.3 2.3 0 1 0 4.6 0a2.3 2.3 0 1 0 -4.6 0zM155.2 185.8a2.3 2.3 0 1 0 4.6 0a2.3 2.3 0 1 0 -4.6 0zM126.9 208a2.3 2.3 0 1 0 4.6 0a2.3 2.3 0 1 0 -4.6 0zM140.3 206.2a2.3 2.3 0 1 0 4.6 0a2.3 2.3 0 1 0 -4.6 0zM143.1 192.5a2.3 2.3 0 1 0 4.6 0a2.3 2.3 0 1 0 -4.6 0z" fill="#780878" stroke="none"/></g><g fill="#000" font-weight="bold" stroke="#000" stroke-width="0.12"><text x="230.6" y="28.8" font-size="22">N</text><path d="M247.41 19.82h11V22.27h-11zM247.41 24.75h11V27.06h-11z"/><text x="259.34" y="28.8" font-size="22">30</text></g><path d="M146.7 67.5H161.6" stroke="#ff0000" stroke-width="1.3"/><g fill="#000" font-weight="bold" stroke="#000" stroke-width="0.18"><text x="175.51" y="69.25" font-size="27" font-style="italic">α</text><path d="M201.2 58h13v3h-13zM201.2 64h13v3h-13z"/><text x="222.92" y="68.4" font-size="25.8" font-style="italic">β</text><rect x="239.7" y="60.6" width="13" height="3"/><text x="257.48" y="56.1" font-size="16.6">2</text><text x="257.48" y="82" font-size="16.6">3</text><rect x="256.8" y="61.5" width="10.6" height="2.6"/></g><path d="M96.51 237.45L321.7 76.6" stroke="#ff0000" stroke-width="1.3"/><use href="#frame"/><use href="#labels"/></g>
<g transform="translate(863.5 428.2)"><use href="#gA"/><g stroke="#800080" fill="none" stroke-width="1.0" stroke-dasharray="3.2 2.7"><ellipse cx="174.9" cy="118.3" rx="26.6" ry="81.9"/><ellipse cx="158" cy="131.5" rx="6" ry="84"/><ellipse cx="147.3" cy="203.3" rx="9.5" ry="112.4"/><ellipse cx="210.3" cy="191.6" rx="43.6" ry="7.2"/><ellipse cx="189" cy="174.3" rx="34.7" ry="2.7"/><ellipse cx="183.7" cy="180" rx="18.1" ry="9.5"/><ellipse cx="168.1" cy="183" rx="37.2" ry="2"/><ellipse cx="153.3" cy="199.7" rx="16" ry="12.5"/><ellipse cx="143.5" cy="209.5" rx="29.5" ry="12"/><ellipse cx="172" cy="204.4" rx="31.7" ry="10"/><ellipse cx="176" cy="203.9" rx="18.3" ry="11.7"/><ellipse cx="180" cy="205" rx="28" ry="4.1"/><ellipse cx="127.1" cy="216.4" rx="15" ry="28.2"/><ellipse cx="134.6" cy="216.4" rx="10" ry="12.5"/><ellipse cx="139.6" cy="220.6" rx="12" ry="26.6"/><ellipse cx="115.7" cy="220.6" rx="36.6" ry="5.3"/></g><g stroke="#780878" fill="none" stroke-width="1.15"><path d="M148.3 118.3H201.5M174.9 36.4V200.2M148.3 115.6V121M201.5 115.6V121M172.2 36.4H177.6M172.2 200.2H177.6M152 131.5H164M158 47.5V215.5M152 128.8V134.2M164 128.8V134.2M155.3 47.5H160.7M155.3 215.5H160.7M137.8 203.3H156.8M147.3 90.9V315.7M137.8 200.6V206M156.8 200.6V206M144.6 90.9H150M144.6 315.7H150M166.7 191.6H253.9M210.3 184.4V198.8M166.7 188.9V194.3M253.9 188.9V194.3M207.6 184.4H213M207.6 198.8H213M154.3 174.3H223.7M189 171.6V177M154.3 171.6V177M223.7 171.6V177M186.3 171.6H191.7M186.3 177H191.7M165.6 180H201.8M183.7 170.5V189.5M165.6 177.3V182.7M201.8 177.3V182.7M181 170.5H186.4M181 189.5H186.4M130.9 183H205.3M168.1 181V185M130.9 180.3V185.7M205.3 180.3V185.7M165.4 181H170.8M165.4 185H170.8M137.3 199.7H169.3M153.3 187.2V212.2M137.3 197V202.4M169.3 197V202.4M150.6 187.2H156M150.6 212.2H156M114 209.5H173M143.5 197.5V221.5M114 206.8V212.2M173 206.8V212.2M140.8 197.5H146.2M140.8 221.5H146.2M140.3 204.4H203.7M172 194.4V214.4M140.3 201.7V207.1M203.7 201.7V207.1M169.3 194.4H174.7M169.3 214.4H174.7M157.7 203.9H194.3M176 192.2V215.6M157.7 201.2V206.6M194.3 201.2V206.6M173.3 192.2H178.7M173.3 215.6H178.7M152 205H208M180 200.9V209.1M152 202.3V207.7M208 202.3V207.7M177.3 200.9H182.7M177.3 209.1H182.7M112.1 216.4H142.1M127.1 188.2V244.6M112.1 213.7V219.1M142.1 213.7V219.1M124.4 188.2H129.8M124.4 244.6H129.8M124.6 216.4H144.6M134.6 203.9V228.9M124.6 213.7V219.1M144.6 213.7V219.1M131.9 203.9H137.3M131.9 228.9H137.3M127.6 220.6H151.6M139.6 194V247.2M127.6 217.9V223.3M151.6 217.9V223.3M136.9 194H142.3M136.9 247.2H142.3M79.1 220.6H152.3M115.7 215.3V225.9M79.1 217.9V223.3M152.3 217.9V223.3M113 215.3H118.4M113 225.9H118.4"/><path d="M172.6 118.3a2.3 2.3 0 1 0 4.6 0a2.3 2.3 0 1 0 -4.6 0zM155.7 131.5a2.3 2.3 0 1 0 4.6 0a2.3 2.3 0 1 0 -4.6 0zM145 203.3a2.3 2.3 0 1 0 4.6 0a2.3 2.3 0 1 0 -4.6 0zM208 191.6a2.3 2.3 0 1 0 4.6 0a2.3 2.3 0 1 0 -4.6 0zM186.7 174.3a2.3 2.3 0 1 0 4.6 0a2.3 2.3 0 1 0 -4.6 0zM181.4 180a2.3 2.3 0 1 0 4.6 0a2.3 2.3 0 1 0 -4.6 0zM165.8 183a2.3 2.3 0 1 0 4.6 0a2.3 2.3 0 1 0 -4.6 0zM151 199.7a2.3 2.3 0 1 0 4.6 0a2.3 2.3 0 1 0 -4.6 0zM141.2 209.5a2.3 2.3 0 1 0 4.6 0a2.3 2.3 0 1 0 -4.6 0zM169.7 204.4a2.3 2.3 0 1 0 4.6 0a2.3 2.3 0 1 0 -4.6 0zM173.7 203.9a2.3 2.3 0 1 0 4.6 0a2.3 2.3 0 1 0 -4.6 0zM177.7 205a2.3 2.3 0 1 0 4.6 0a2.3 2.3 0 1 0 -4.6 0zM124.8 216.4a2.3 2.3 0 1 0 4.6 0a2.3 2.3 0 1 0 -4.6 0zM132.3 216.4a2.3 2.3 0 1 0 4.6 0a2.3 2.3 0 1 0 -4.6 0zM137.3 220.6a2.3 2.3 0 1 0 4.6 0a2.3 2.3 0 1 0 -4.6 0zM113.4 220.6a2.3 2.3 0 1 0 4.6 0a2.3 2.3 0 1 0 -4.6 0z" fill="#780878" stroke="none"/></g><g fill="#000" font-weight="bold" stroke="#000" stroke-width="0.12"><text x="230.6" y="28.8" font-size="22">N</text><path d="M247.41 19.82h11V22.27h-11zM247.41 24.75h11V27.06h-11z"/><path d="M267.99 28.8L264.97 28.8L264.97 17.39Q263.31 18.94 261.06 19.68L261.06 16.93Q262.25 16.54 263.63 15.46Q265.02 14.38 265.53 12.94L267.99 12.94z"/><text x="271.57" y="28.8" font-size="22">6</text></g><path d="M164.2 70.6H178.8" stroke="#ff0000" stroke-width="1.3"/><g fill="#000" font-weight="bold" stroke="#000" stroke-width="0.18"><text x="192.41" y="73.95" font-size="27" font-style="italic">α</text><path d="M218.1 62.7h13v3h-13zM218.1 68.7h13v3h-13z"/><text x="239.82" y="73.1" font-size="25.8" font-style="italic">β</text><rect x="256.6" y="65.3" width="13" height="3"/><path d="M281.44 73.2L277.97 73.2L277.97 60.13Q276.07 61.91 273.5 62.75L273.5 59.6Q274.85 59.16 276.44 57.92Q278.03 56.69 278.62 55.04L281.44 55.04z"/></g><path d="M128.68 229.79L321.7 91.91" stroke="#ff0000" stroke-width="1.3"/><use href="#frame"/><use href="#labels"/></g>
<g transform="translate(50.5 834.2)"><use href="#gA"/><g stroke="#800080" fill="none" stroke-width="1.0" stroke-dasharray="3.2 2.7"><ellipse cx="115.8" cy="196.9" rx="32" ry="23"/></g><g stroke="#780878" fill="none" stroke-width="1.15"><path d="M83.8 196.9H147.8M115.8 173.9V219.9M83.8 194.2V199.6M147.8 194.2V199.6M113.1 173.9H118.5M113.1 219.9H118.5"/><path d="M113.5 196.9a2.3 2.3 0 1 0 4.6 0a2.3 2.3 0 1 0 -4.6 0z" fill="#780878" stroke="none"/></g><circle cx="85.79" cy="196.08" r="3.3" fill="#ff0000"/><g fill="#000" font-weight="bold" stroke="#000" stroke-width="0.12"><text x="236.7" y="28.8" font-size="22">N</text><path d="M253.51 19.82h11V22.27h-11zM253.51 24.75h11V27.06h-11z"/><path d="M274.09 28.8L271.07 28.8L271.07 17.39Q269.41 18.94 267.16 19.68L267.16 16.93Q268.35 16.54 269.73 15.46Q271.12 14.38 271.63 12.94L274.09 12.94z"/></g><circle cx="114.9" cy="67.4" r="3.3" fill="#ff0000"/><g fill="#000" font-weight="bold" stroke="#000" stroke-width="0.18"><text x="132.56" y="69.45" font-size="27" font-style="italic">α</text><path d="M158.4 58.2h13v3h-13zM158.4 64.2h13v3h-13z"/><path d="M194.46 56.3L191.9 56.3L191.9 47.69Q190.5 48.86 188.6 49.42L188.6 47.34Q189.6 47.05 190.77 46.24Q191.94 45.42 192.38 44.34L194.46 44.34z"/><path d="M204.16 56.3L201.6 56.3L201.6 47.69Q200.2 48.86 198.3 49.42L198.3 47.34Q199.3 47.05 200.47 46.24Q201.64 45.42 202.08 44.34L204.16 44.34z"/><text x="190.58" y="82.2" font-size="16.6">5</text><rect x="183.3" y="61.7" width="23.8" height="2.6"/><text x="211.97" y="68.6" font-size="25.8" font-style="italic">β</text><text x="227.89" y="68.7" font-size="25.2">,</text><text x="243.27" y="68.6" font-size="25.8" font-style="italic">β</text><path d="M266.4 58.2h13v3h-13zM266.4 64.2h13v3h-13z"/><path d="M298.67 56.3L296.38 56.3L296.38 47.69Q295.13 48.86 293.44 49.42L293.44 47.34Q294.33 47.05 295.38 46.24Q296.42 45.42 296.81 44.34L298.67 44.34z"/><text x="292.13" y="82.2" font-size="16.6">3</text><rect x="291.4" y="61.7" width="10.7" height="2.6"/></g><use href="#frame"/><use href="#labels"/></g>
<g transform="translate(457 834.2)"><use href="#gB"/><g stroke="#800080" fill="none" stroke-width="1.0" stroke-dasharray="3.2 2.7"><ellipse cx="158" cy="131.5" rx="6" ry="84"/><ellipse cx="174.9" cy="118.3" rx="26.6" ry="81.9"/><ellipse cx="147.3" cy="203.3" rx="9.5" ry="112.4"/><ellipse cx="97.1" cy="224.1" rx="20.2" ry="14.8"/><ellipse cx="83.9" cy="237.1" rx="22.5" ry="15.9"/><ellipse cx="115.7" cy="220.6" rx="36.6" ry="5.3"/><ellipse cx="127.1" cy="216.4" rx="15" ry="28.2"/><ellipse cx="139.6" cy="220.6" rx="12" ry="26.6"/><ellipse cx="143.5" cy="209.5" rx="29.5" ry="12"/><ellipse cx="130.8" cy="204.5" rx="14" ry="19"/><ellipse cx="105.4" cy="195" rx="21.7" ry="22.8"/><ellipse cx="115.8" cy="196.9" rx="32" ry="23"/><ellipse cx="189" cy="174.3" rx="34.7" ry="2.7"/><ellipse cx="183.2" cy="163.2" rx="24.5" ry="1.5"/><ellipse cx="179.8" cy="171.8" rx="22.6" ry="1.5"/><ellipse cx="168.1" cy="183" rx="37.2" ry="2"/><ellipse cx="153.3" cy="199.7" rx="16" ry="12.5"/><ellipse cx="169.2" cy="177" rx="20" ry="6"/><ellipse cx="141.7" cy="195.7" rx="18" ry="9"/><ellipse cx="156.6" cy="195.7" rx="22" ry="7"/><ellipse cx="142.7" cy="185.25" rx="20" ry="8"/><ellipse cx="154.6" cy="185.7" rx="24" ry="6"/><ellipse cx="157.6" cy="185.25" rx="15" ry="10"/><ellipse cx="154.1" cy="189.2" rx="19" ry="5"/><ellipse cx="123.6" cy="198.9" rx="17" ry="8"/><ellipse cx="138.9" cy="169.9" rx="25" ry="22"/><ellipse cx="158.8" cy="169.9" rx="20" ry="9"/><ellipse cx="115.8" cy="216" rx="4" ry="10"/><ellipse cx="151.5" cy="182.7" rx="7.7" ry="7.1"/><ellipse cx="146.5" cy="191.4" rx="6.6" ry="7.5"/><ellipse cx="145.2" cy="189.1" rx="11.2" ry="3.8"/><ellipse cx="159.4" cy="179.6" rx="8.6" ry="4.8"/><ellipse cx="138.9" cy="193.4" rx="8.9" ry="6.9"/><ellipse cx="152.2" cy="190.4" rx="6.8" ry="6.5"/><ellipse cx="148.5" cy="184" rx="8.4" ry="6.2"/><ellipse cx="152.8" cy="185.9" rx="7.1" ry="4.4"/><ellipse cx="157.5" cy="185.8" rx="14.8" ry="8"/><ellipse cx="129.2" cy="208" rx="10.2" ry="6.5"/><ellipse cx="159.5" cy="170.8" rx="14" ry="7.6"/><ellipse cx="126.6" cy="197.7" rx="12.6" ry="6.3"/><ellipse cx="137" cy="191.8" rx="14.4" ry="3"/><ellipse cx="145.4" cy="192.5" rx="11.1" ry="7.2"/></g><g stroke="#780878" fill="none" stroke-width="1.15"><path d="M152 131.5H164M158 47.5V215.5M152 128.8V134.2M164 128.8V134.2M155.3 47.5H160.7M155.3 215.5H160.7M148.3 118.3H201.5M174.9 36.4V200.2M148.3 115.6V121M201.5 115.6V121M172.2 36.4H177.6M172.2 200.2H177.6M137.8 203.3H156.8M147.3 90.9V315.7M137.8 200.6V206M156.8 200.6V206M144.6 90.9H150M144.6 315.7H150M76.9 224.1H117.3M97.1 209.3V238.9M76.9 221.4V226.8M117.3 221.4V226.8M94.4 209.3H99.8M94.4 238.9H99.8M61.4 237.1H106.4M83.9 221.2V253M61.4 234.4V239.8M106.4 234.4V239.8M81.2 221.2H86.6M81.2 253H86.6M79.1 220.6H152.3M115.7 215.3V225.9M79.1 217.9V223.3M152.3 217.9V223.3M113 215.3H118.4M113 225.9H118.4M112.1 216.4H142.1M127.1 188.2V244.6M112.1 213.7V219.1M142.1 213.7V219.1M124.4 188.2H129.8M124.4 244.6H129.8M127.6 220.6H151.6M139.6 194V247.2M127.6 217.9V223.3M151.6 217.9V223.3M136.9 194H142.3M136.9 247.2H142.3M114 209.5H173M143.5 197.5V221.5M114 206.8V212.2M173 206.8V212.2M140.8 197.5H146.2M140.8 221.5H146.2M116.8 204.5H144.8M130.8 185.5V223.5M116.8 201.8V207.2M144.8 201.8V207.2M128.1 185.5H133.5M128.1 223.5H133.5M83.7 195H127.1M105.4 172.2V217.8M83.7 192.3V197.7M127.1 192.3V197.7M102.7 172.2H108.1M102.7 217.8H108.1M83.8 196.9H147.8M115.8 173.9V219.9M83.8 194.2V199.6M147.8 194.2V199.6M113.1 173.9H118.5M113.1 219.9H118.5M154.3 174.3H223.7M189 171.6V177M154.3 171.6V177M223.7 171.6V177M186.3 171.6H191.7M186.3 177H191.7M158.7 163.2H207.7M183.2 161.7V164.7M158.7 160.5V165.9M207.7 160.5V165.9M180.5 161.7H185.9M180.5 164.7H185.9M157.2 171.8H202.4M179.8 170.3V173.3M157.2 169.1V174.5M202.4 169.1V174.5M177.1 170.3H182.5M177.1 173.3H182.5M130.9 183H205.3M168.1 181V185M130.9 180.3V185.7M205.3 180.3V185.7M165.4 181H170.8M165.4 185H170.8M137.3 199.7H169.3M153.3 187.2V212.2M137.3 197V202.4M169.3 197V202.4M150.6 187.2H156M150.6 212.2H156M149.2 177H189.2M169.2 171V183M149.2 174.3V179.7M189.2 174.3V179.7M166.5 171H171.9M166.5 183H171.9M123.7 195.7H159.7M141.7 186.7V204.7M123.7 193V198.4M159.7 193V198.4M139 186.7H144.4M139 204.7H144.4M134.6 195.7H178.6M156.6 188.7V202.7M134.6 193V198.4M178.6 193V198.4M153.9 188.7H159.3M153.9 202.7H159.3M122.7 185.25H162.7M142.7 177.25V193.25M122.7 182.55V187.95M162.7 182.55V187.95M140 177.25H145.4M140 193.25H145.4M130.6 185.7H178.6M154.6 179.7V191.7M130.6 183V188.4M178.6 183V188.4M151.9 179.7H157.3M151.9 191.7H157.3M142.6 185.25H172.6M157.6 175.25V195.25M142.6 182.55V187.95M172.6 182.55V187.95M154.9 175.25H160.3M154.9 195.25H160.3M135.1 189.2H173.1M154.1 184.2V194.2M135.1 186.5V191.9M173.1 186.5V191.9M151.4 184.2H156.8M151.4 194.2H156.8M106.6 198.9H140.6M123.6 190.9V206.9M106.6 196.2V201.6M140.6 196.2V201.6M120.9 190.9H126.3M120.9 206.9H126.3M113.9 169.9H163.9M138.9 147.9V191.9M113.9 167.2V172.6M163.9 167.2V172.6M136.2 147.9H141.6M136.2 191.9H141.6M138.8 169.9H178.8M158.8 160.9V178.9M138.8 167.2V172.6M178.8 167.2V172.6M156.1 160.9H161.5M156.1 178.9H161.5M111.8 216H119.8M115.8 206V226M111.8 213.3V218.7M119.8 213.3V218.7M113.1 206H118.5M113.1 226H118.5M143.8 182.7H159.2M151.5 175.6V189.8M143.8 180V185.4M159.2 180V185.4M148.8 175.6H154.2M148.8 189.8H154.2M139.9 191.4H153.1M146.5 183.9V198.9M139.9 188.7V194.1M153.1 188.7V194.1M143.8 183.9H149.2M143.8 198.9H149.2M134 189.1H156.4M145.2 185.3V192.9M134 186.4V191.8M156.4 186.4V191.8M142.5 185.3H147.9M142.5 192.9H147.9M150.8 179.6H168M159.4 174.8V184.4M150.8 176.9V182.3M168 176.9V182.3M156.7 174.8H162.1M156.7 184.4H162.1M130 193.4H147.8M138.9 186.5V200.3M130 190.7V196.1M147.8 190.7V196.1M136.2 186.5H141.6M136.2 200.3H141.6M145.4 190.4H159M152.2 183.9V196.9M145.4 187.7V193.1M159 187.7V193.1M149.5 183.9H154.9M149.5 196.9H154.9M140.1 184H156.9M148.5 177.8V190.2M140.1 181.3V186.7M156.9 181.3V186.7M145.8 177.8H151.2M145.8 190.2H151.2M145.7 185.9H159.9M152.8 181.5V190.3M145.7 183.2V188.6M159.9 183.2V188.6M150.1 181.5H155.5M150.1 190.3H155.5M142.7 185.8H172.3M157.5 177.8V193.8M142.7 183.1V188.5M172.3 183.1V188.5M154.8 177.8H160.2M154.8 193.8H160.2M119 208H139.4M129.2 201.5V214.5M119 205.3V210.7M139.4 205.3V210.7M126.5 201.5H131.9M126.5 214.5H131.9M145.5 170.8H173.5M159.5 163.2V178.4M145.5 168.1V173.5M173.5 168.1V173.5M156.8 163.2H162.2M156.8 178.4H162.2M114 197.7H139.2M126.6 191.4V204M114 195V200.4M139.2 195V200.4M123.9 191.4H129.3M123.9 204H129.3M122.6 191.8H151.4M137 188.8V194.8M122.6 189.1V194.5M151.4 189.1V194.5M134.3 188.8H139.7M134.3 194.8H139.7M134.3 192.5H156.5M145.4 185.3V199.7M134.3 189.8V195.2M156.5 189.8V195.2M142.7 185.3H148.1M142.7 199.7H148.1"/><path d="M155.7 131.5a2.3 2.3 0 1 0 4.6 0a2.3 2.3 0 1 0 -4.6 0zM172.6 118.3a2.3 2.3 0 1 0 4.6 0a2.3 2.3 0 1 0 -4.6 0zM145 203.3a2.3 2.3 0 1 0 4.6 0a2.3 2.3 0 1 0 -4.6 0zM94.8 224.1a2.3 2.3 0 1 0 4.6 0a2.3 2.3 0 1 0 -4.6 0zM81.6 237.1a2.3 2.3 0 1 0 4.6 0a2.3 2.3 0 1 0 -4.6 0zM113.4 220.6a2.3 2.3 0 1 0 4.6 0a2.3 2.3 0 1 0 -4.6 0zM124.8 216.4a2.3 2.3 0 1 0 4.6 0a2.3 2.3 0 1 0 -4.6 0zM137.3 220.6a2.3 2.3 0 1 0 4.6 0a2.3 2.3 0 1 0 -4.6 0zM141.2 209.5a2.3 2.3 0 1 0 4.6 0a2.3 2.3 0 1 0 -4.6 0zM128.5 204.5a2.3 2.3 0 1 0 4.6 0a2.3 2.3 0 1 0 -4.6 0zM103.1 195a2.3 2.3 0 1 0 4.6 0a2.3 2.3 0 1 0 -4.6 0zM113.5 196.9a2.3 2.3 0 1 0 4.6 0a2.3 2.3 0 1 0 -4.6 0zM186.7 174.3a2.3 2.3 0 1 0 4.6 0a2.3 2.3 0 1 0 -4.6 0zM180.9 163.2a2.3 2.3 0 1 0 4.6 0a2.3 2.3 0 1 0 -4.6 0zM177.5 171.8a2.3 2.3 0 1 0 4.6 0a2.3 2.3 0 1 0 -4.6 0zM165.8 183a2.3 2.3 0 1 0 4.6 0a2.3 2.3 0 1 0 -4.6 0zM151 199.7a2.3 2.3 0 1 0 4.6 0a2.3 2.3 0 1 0 -4.6 0zM166.9 177a2.3 2.3 0 1 0 4.6 0a2.3 2.3 0 1 0 -4.6 0zM139.4 195.7a2.3 2.3 0 1 0 4.6 0a2.3 2.3 0 1 0 -4.6 0zM154.3 195.7a2.3 2.3 0 1 0 4.6 0a2.3 2.3 0 1 0 -4.6 0zM140.4 185.25a2.3 2.3 0 1 0 4.6 0a2.3 2.3 0 1 0 -4.6 0zM152.3 185.7a2.3 2.3 0 1 0 4.6 0a2.3 2.3 0 1 0 -4.6 0zM155.3 185.25a2.3 2.3 0 1 0 4.6 0a2.3 2.3 0 1 0 -4.6 0zM151.8 189.2a2.3 2.3 0 1 0 4.6 0a2.3 2.3 0 1 0 -4.6 0zM121.3 198.9a2.3 2.3 0 1 0 4.6 0a2.3 2.3 0 1 0 -4.6 0zM136.6 169.9a2.3 2.3 0 1 0 4.6 0a2.3 2.3 0 1 0 -4.6 0zM156.5 169.9a2.3 2.3 0 1 0 4.6 0a2.3 2.3 0 1 0 -4.6 0zM113.5 216a2.3 2.3 0 1 0 4.6 0a2.3 2.3 0 1 0 -4.6 0zM149.2 182.7a2.3 2.3 0 1 0 4.6 0a2.3 2.3 0 1 0 -4.6 0zM144.2 191.4a2.3 2.3 0 1 0 4.6 0a2.3 2.3 0 1 0 -4.6 0zM142.9 189.1a2.3 2.3 0 1 0 4.6 0a2.3 2.3 0 1 0 -4.6 0zM157.1 179.6a2.3 2.3 0 1 0 4.6 0a2.3 2.3 0 1 0 -4.6 0zM136.6 193.4a2.3 2.3 0 1 0 4.6 0a2.3 2.3 0 1 0 -4.6 0zM149.9 190.4a2.3 2.3 0 1 0 4.6 0a2.3 2.3 0 1 0 -4.6 0zM146.2 184a2.3 2.3 0 1 0 4.6 0a2.3 2.3 0 1 0 -4.6 0zM150.5 185.9a2.3 2.3 0 1 0 4.6 0a2.3 2.3 0 1 0 -4.6 0zM155.2 185.8a2.3 2.3 0 1 0 4.6 0a2.3 2.3 0 1 0 -4.6 0zM126.9 208a2.3 2.3 0 1 0 4.6 0a2.3 2.3 0 1 0 -4.6 0zM157.2 170.8a2.3 2.3 0 1 0 4.6 0a2.3 2.3 0 1 0 -4.6 0zM124.3 197.7a2.3 2.3 0 1 0 4.6 0a2.3 2.3 0 1 0 -4.6 0zM134.7 191.8a2.3 2.3 0 1 0 4.6 0a2.3 2.3 0 1 0 -4.6 0zM143.1 192.5a2.3 2.3 0 1 0 4.6 0a2.3 2.3 0 1 0 -4.6 0z" fill="#780878" stroke="none"/></g><g fill="#000" font-weight="bold" stroke="#000" stroke-width="0.12"><text x="204.9" y="28.8" font-size="22">N</text><path d="M221.71 19.82h11V22.27h-11zM221.71 24.75h11V27.06h-11z"/><text x="233.64" y="28.8" font-size="22">40</text></g><path d="M146.7 51.1H161.6" stroke="#ff0000" stroke-width="1.3"/><g fill="#000" font-weight="bold" stroke="#000" stroke-width="0.18"><text x="175.51" y="53.05" font-size="27" font-style="italic">α</text><path d="M201.2 41.8h13v3h-13zM201.2 47.8h13v3h-13z"/><text x="222.92" y="52.2" font-size="25.8" font-style="italic">β</text><rect x="239.7" y="44.4" width="13" height="3"/><text x="257.48" y="39.9" font-size="16.6">2</text><text x="257.48" y="65.8" font-size="16.6">5</text><rect x="256.8" y="45.3" width="10.6" height="2.6"/></g><path d="M96.51 225.19L321.7 64.34" stroke="#ff0000" stroke-width="1.3"/><use href="#frame"/><use href="#labels"/></g>
<g transform="translate(863.5 834.2)"><use href="#gA"/><g stroke="#800080" fill="none" stroke-width="1.0" stroke-dasharray="3.2 2.7"><ellipse cx="174.9" cy="118.3" rx="26.6" ry="81.9"/><ellipse cx="158" cy="131.5" rx="6" ry="84"/><ellipse cx="147.3" cy="203.3" rx="9.5" ry="112.4"/><ellipse cx="210.3" cy="191.6" rx="43.6" ry="7.2"/><ellipse cx="189" cy="174.3" rx="34.7" ry="2.7"/><ellipse cx="183.7" cy="180" rx="18.1" ry="9.5"/><ellipse cx="168.1" cy="183" rx="37.2" ry="2"/><ellipse cx="153.3" cy="199.7" rx="16" ry="12.5"/><ellipse cx="143.5" cy="209.5" rx="29.5" ry="12"/><ellipse cx="172" cy="204.4" rx="31.7" ry="10"/><ellipse cx="176" cy="203.9" rx="18.3" ry="11.7"/><ellipse cx="180" cy="205" rx="28" ry="4.1"/><ellipse cx="127.1" cy="216.4" rx="15" ry="28.2"/><ellipse cx="134.6" cy="216.4" rx="10" ry="12.5"/><ellipse cx="139.6" cy="220.6" rx="12" ry="26.6"/><ellipse cx="115.7" cy="220.6" rx="36.6" ry="5.3"/></g><g stroke="#780878" fill="none" stroke-width="1.15"><path d="M148.3 118.3H201.5M174.9 36.4V200.2M148.3 115.6V121M201.5 115.6V121M172.2 36.4H177.6M172.2 200.2H177.6M152 131.5H164M158 47.5V215.5M152 128.8V134.2M164 128.8V134.2M155.3 47.5H160.7M155.3 215.5H160.7M137.8 203.3H156.8M147.3 90.9V315.7M137.8 200.6V206M156.8 200.6V206M144.6 90.9H150M144.6 315.7H150M166.7 191.6H253.9M210.3 184.4V198.8M166.7 188.9V194.3M253.9 188.9V194.3M207.6 184.4H213M207.6 198.8H213M154.3 174.3H223.7M189 171.6V177M154.3 171.6V177M223.7 171.6V177M186.3 171.6H191.7M186.3 177H191.7M165.6 180H201.8M183.7 170.5V189.5M165.6 177.3V182.7M201.8 177.3V182.7M181 170.5H186.4M181 189.5H186.4M130.9 183H205.3M168.1 181V185M130.9 180.3V185.7M205.3 180.3V185.7M165.4 181H170.8M165.4 185H170.8M137.3 199.7H169.3M153.3 187.2V212.2M137.3 197V202.4M169.3 197V202.4M150.6 187.2H156M150.6 212.2H156M114 209.5H173M143.5 197.5V221.5M114 206.8V212.2M173 206.8V212.2M140.8 197.5H146.2M140.8 221.5H146.2M140.3 204.4H203.7M172 194.4V214.4M140.3 201.7V207.1M203.7 201.7V207.1M169.3 194.4H174.7M169.3 214.4H174.7M157.7 203.9H194.3M176 192.2V215.6M157.7 201.2V206.6M194.3 201.2V206.6M173.3 192.2H178.7M173.3 215.6H178.7M152 205H208M180 200.9V209.1M152 202.3V207.7M208 202.3V207.7M177.3 200.9H182.7M177.3 209.1H182.7M112.1 216.4H142.1M127.1 188.2V244.6M112.1 213.7V219.1M142.1 213.7V219.1M124.4 188.2H129.8M124.4 244.6H129.8M124.6 216.4H144.6M134.6 203.9V228.9M124.6 213.7V219.1M144.6 213.7V219.1M131.9 203.9H137.3M131.9 228.9H137.3M127.6 220.6H151.6M139.6 194V247.2M127.6 217.9V223.3M151.6 217.9V223.3M136.9 194H142.3M136.9 247.2H142.3M79.1 220.6H152.3M115.7 215.3V225.9M79.1 217.9V223.3M152.3 217.9V223.3M113 215.3H118.4M113 225.9H118.4"/><path d="M172.6 118.3a2.3 2.3 0 1 0 4.6 0a2.3 2.3 0 1 0 -4.6 0zM155.7 131.5a2.3 2.3 0 1 0 4.6 0a2.3 2.3 0 1 0 -4.6 0zM145 203.3a2.3 2.3 0 1 0 4.6 0a2.3 2.3 0 1 0 -4.6 0zM208 191.6a2.3 2.3 0 1 0 4.6 0a2.3 2.3 0 1 0 -4.6 0zM186.7 174.3a2.3 2.3 0 1 0 4.6 0a2.3 2.3 0 1 0 -4.6 0zM181.4 180a2.3 2.3 0 1 0 4.6 0a2.3 2.3 0 1 0 -4.6 0zM165.8 183a2.3 2.3 0 1 0 4.6 0a2.3 2.3 0 1 0 -4.6 0zM151 199.7a2.3 2.3 0 1 0 4.6 0a2.3 2.3 0 1 0 -4.6 0zM141.2 209.5a2.3 2.3 0 1 0 4.6 0a2.3 2.3 0 1 0 -4.6 0zM169.7 204.4a2.3 2.3 0 1 0 4.6 0a2.3 2.3 0 1 0 -4.6 0zM173.7 203.9a2.3 2.3 0 1 0 4.6 0a2.3 2.3 0 1 0 -4.6 0zM177.7 205a2.3 2.3 0 1 0 4.6 0a2.3 2.3 0 1 0 -4.6 0zM124.8 216.4a2.3 2.3 0 1 0 4.6 0a2.3 2.3 0 1 0 -4.6 0zM132.3 216.4a2.3 2.3 0 1 0 4.6 0a2.3 2.3 0 1 0 -4.6 0zM137.3 220.6a2.3 2.3 0 1 0 4.6 0a2.3 2.3 0 1 0 -4.6 0zM113.4 220.6a2.3 2.3 0 1 0 4.6 0a2.3 2.3 0 1 0 -4.6 0z" fill="#780878" stroke="none"/></g><g fill="#000" font-weight="bold" stroke="#000" stroke-width="0.12"><text x="230.6" y="28.8" font-size="22">N</text><path d="M247.41 19.82h11V22.27h-11zM247.41 24.75h11V27.06h-11z"/><path d="M267.99 28.8L264.97 28.8L264.97 17.39Q263.31 18.94 261.06 19.68L261.06 16.93Q262.25 16.54 263.63 15.46Q265.02 14.38 265.53 12.94L267.99 12.94z"/><text x="271.57" y="28.8" font-size="22">6</text></g><path d="M164.2 70.6H178.8" stroke="#ff0000" stroke-width="1.3"/><g fill="#000" font-weight="bold" stroke="#000" stroke-width="0.18"><text x="192.41" y="73.95" font-size="27" font-style="italic">α</text><path d="M218.1 62.7h13v3h-13zM218.1 68.7h13v3h-13z"/><text x="239.82" y="73.1" font-size="25.8" font-style="italic">β</text><rect x="256.6" y="65.3" width="13" height="3"/><path d="M281.44 73.2L277.97 73.2L277.97 60.13Q276.07 61.91 273.5 62.75L273.5 59.6Q274.85 59.16 276.44 57.92Q278.03 56.69 278.62 55.04L281.44 55.04z"/></g><path d="M128.68 229.79L321.7 91.91" stroke="#ff0000" stroke-width="1.3"/><use href="#frame"/><use href="#labels"/></g>
<g transform="translate(50.5 1240.2)"><use href="#gA"/><g stroke="#800080" fill="none" stroke-width="1.0" stroke-dasharray="3.2 2.7"><ellipse cx="97.1" cy="224.1" rx="20.2" ry="14.8"/></g><g stroke="#780878" fill="none" stroke-width="1.15"><path d="M76.9 224.1H117.3M97.1 209.3V238.9M76.9 221.4V226.8M117.3 221.4V226.8M94.4 209.3H99.8M94.4 238.9H99.8"/><path d="M94.8 224.1a2.3 2.3 0 1 0 4.6 0a2.3 2.3 0 1 0 -4.6 0z" fill="#780878" stroke="none"/></g><circle cx="85.79" cy="214.47" r="3.3" fill="#ff0000"/><g fill="#000" font-weight="bold" stroke="#000" stroke-width="0.12"><text x="236.7" y="28.8" font-size="22">N</text><path d="M253.51 19.82h11V22.27h-11zM253.51 24.75h11V27.06h-11z"/><path d="M274.09 28.8L271.07 28.8L271.07 17.39Q269.41 18.94 267.16 19.68L267.16 16.93Q268.35 16.54 269.73 15.46Q271.12 14.38 271.63 12.94L274.09 12.94z"/></g><circle cx="117.6" cy="71.05" r="3.4" fill="#ff0000"/><g fill="#000" font-weight="bold" stroke="#000" stroke-width="0.18"><text x="135.11" y="74.45" font-size="27" font-style="italic">α</text><path d="M160.7 63.2h13v3h-13zM160.7 69.2h13v3h-13z"/><text x="182.67" y="73.6" font-size="25.8" font-style="italic">β</text><text x="197.89" y="73.7" font-size="25.2">,</text><text x="213.07" y="73.6" font-size="25.8" font-style="italic">β</text><path d="M236.9 63.2h13v3h-13zM236.9 69.2h13v3h-13z"/><path d="M269.14 73.7L265.67 73.7L265.67 60.63Q263.77 62.41 261.2 63.25L261.2 60.1Q262.55 59.66 264.14 58.42Q265.73 57.19 266.32 55.54L269.14 55.54z"/><text x="278.3" y="73.7" font-size="25.2">/</text><text x="289.4" y="73.7" font-size="25.2">3</text></g><use href="#frame"/><use href="#labels"/></g>
<g transform="translate(457 1240.2)"><use href="#gB"/><g stroke="#800080" fill="none" stroke-width="1.0" stroke-dasharray="3.2 2.7"><ellipse cx="158" cy="131.5" rx="6" ry="84"/><ellipse cx="174.9" cy="118.3" rx="26.6" ry="81.9"/><ellipse cx="170.7" cy="142.4" rx="7.7" ry="21.6"/><ellipse cx="147.3" cy="203.3" rx="9.5" ry="112.4"/><ellipse cx="105.4" cy="195" rx="21.7" ry="22.8"/><ellipse cx="115.8" cy="196.9" rx="32" ry="23"/><ellipse cx="142.7" cy="185.25" rx="20" ry="8"/><ellipse cx="123.6" cy="198.9" rx="17" ry="8"/><ellipse cx="138.9" cy="169.9" rx="25" ry="22"/><ellipse cx="158.8" cy="169.9" rx="20" ry="9"/><ellipse cx="98.4" cy="192" rx="14.2" ry="9.5"/><ellipse cx="112" cy="196" rx="21.8" ry="4"/><ellipse cx="113.6" cy="170.5" rx="8" ry="40"/><ellipse cx="118.8" cy="172" rx="10" ry="36"/><ellipse cx="143.2" cy="162.2" rx="12.5" ry="9"/><ellipse cx="127.5" cy="191.6" rx="13.4" ry="3.1"/><ellipse cx="134.3" cy="178.6" rx="6.7" ry="7.1"/><ellipse cx="122.5" cy="188.7" rx="11" ry="5.4"/><ellipse cx="133" cy="183.8" rx="12.3" ry="7.8"/><ellipse cx="123.5" cy="192" rx="13.1" ry="5.5"/><ellipse cx="137.9" cy="172" rx="7.4" ry="3"/><ellipse cx="132.5" cy="181.9" rx="8.2" ry="6.9"/><ellipse cx="147.3" cy="168.3" rx="7.3" ry="5.6"/><ellipse cx="143.5" cy="178" rx="7.9" ry="7.4"/><ellipse cx="132.9" cy="174.7" rx="7.9" ry="4.3"/><ellipse cx="125.6" cy="185.9" rx="9.4" ry="7.9"/><ellipse cx="137.1" cy="170.6" rx="10.9" ry="7.5"/><ellipse cx="141.1" cy="167.9" rx="8.5" ry="4.8"/><ellipse cx="159.5" cy="170.8" rx="14" ry="7.6"/><ellipse cx="127.6" cy="189.6" rx="14.3" ry="6.4"/><ellipse cx="126.6" cy="184.4" rx="11.7" ry="4.7"/><ellipse cx="127.7" cy="188.9" rx="7" ry="5.2"/></g><g stroke="#780878" fill="none" stroke-width="1.15"><path d="M152 131.5H164M158 47.5V215.5M152 128.8V134.2M164 128.8V134.2M155.3 47.5H160.7M155.3 215.5H160.7M148.3 118.3H201.5M174.9 36.4V200.2M148.3 115.6V121M201.5 115.6V121M172.2 36.4H177.6M172.2 200.2H177.6M163 142.4H178.4M170.7 120.8V164M163 139.7V145.1M178.4 139.7V145.1M168 120.8H173.4M168 164H173.4M137.8 203.3H156.8M147.3 90.9V315.7M137.8 200.6V206M156.8 200.6V206M144.6 90.9H150M144.6 315.7H150M83.7 195H127.1M105.4 172.2V217.8M83.7 192.3V197.7M127.1 192.3V197.7M102.7 172.2H108.1M102.7 217.8H108.1M83.8 196.9H147.8M115.8 173.9V219.9M83.8 194.2V199.6M147.8 194.2V199.6M113.1 173.9H118.5M113.1 219.9H118.5M122.7 185.25H162.7M142.7 177.25V193.25M122.7 182.55V187.95M162.7 182.55V187.95M140 177.25H145.4M140 193.25H145.4M106.6 198.9H140.6M123.6 190.9V206.9M106.6 196.2V201.6M140.6 196.2V201.6M120.9 190.9H126.3M120.9 206.9H126.3M113.9 169.9H163.9M138.9 147.9V191.9M113.9 167.2V172.6M163.9 167.2V172.6M136.2 147.9H141.6M136.2 191.9H141.6M138.8 169.9H178.8M158.8 160.9V178.9M138.8 167.2V172.6M178.8 167.2V172.6M156.1 160.9H161.5M156.1 178.9H161.5M84.2 192H112.6M98.4 182.5V201.5M84.2 189.3V194.7M112.6 189.3V194.7M95.7 182.5H101.1M95.7 201.5H101.1M90.2 196H133.8M112 192V200M90.2 193.3V198.7M133.8 193.3V198.7M109.3 192H114.7M109.3 200H114.7M105.6 170.5H121.6M113.6 130.5V210.5M105.6 167.8V173.2M121.6 167.8V173.2M110.9 130.5H116.3M110.9 210.5H116.3M108.8 172H128.8M118.8 136V208M108.8 169.3V174.7M128.8 169.3V174.7M116.1 136H121.5M116.1 208H121.5M130.7 162.2H155.7M143.2 153.2V171.2M130.7 159.5V164.9M155.7 159.5V164.9M140.5 153.2H145.9M140.5 171.2H145.9M114.1 191.6H140.9M127.5 188.5V194.7M114.1 188.9V194.3M140.9 188.9V194.3M124.8 188.5H130.2M124.8 194.7H130.2M127.6 178.6H141M134.3 171.5V185.7M127.6 175.9V181.3M141 175.9V181.3M131.6 171.5H137M131.6 185.7H137M111.5 188.7H133.5M122.5 183.3V194.1M111.5 186V191.4M133.5 186V191.4M119.8 183.3H125.2M119.8 194.1H125.2M120.7 183.8H145.3M133 176V191.6M120.7 181.1V186.5M145.3 181.1V186.5M130.3 176H135.7M130.3 191.6H135.7M110.4 192H136.6M123.5 186.5V197.5M110.4 189.3V194.7M136.6 189.3V194.7M120.8 186.5H126.2M120.8 197.5H126.2M130.5 172H145.3M137.9 169V175M130.5 169.3V174.7M145.3 169.3V174.7M135.2 169H140.6M135.2 175H140.6M124.3 181.9H140.7M132.5 175V188.8M124.3 179.2V184.6M140.7 179.2V184.6M129.8 175H135.2M129.8 188.8H135.2M140 168.3H154.6M147.3 162.7V173.9M140 165.6V171M154.6 165.6V171M144.6 162.7H150M144.6 173.9H150M135.6 178H151.4M143.5 170.6V185.4M135.6 175.3V180.7M151.4 175.3V180.7M140.8 170.6H146.2M140.8 185.4H146.2M125 174.7H140.8M132.9 170.4V179M125 172V177.4M140.8 172V177.4M130.2 170.4H135.6M130.2 179H135.6M116.2 185.9H135M125.6 178V193.8M116.2 183.2V188.6M135 183.2V188.6M122.9 178H128.3M122.9 193.8H128.3M126.2 170.6H148M137.1 163.1V178.1M126.2 167.9V173.3M148 167.9V173.3M134.4 163.1H139.8M134.4 178.1H139.8M132.6 167.9H149.6M141.1 163.1V172.7M132.6 165.2V170.6M149.6 165.2V170.6M138.4 163.1H143.8M138.4 172.7H143.8M145.5 170.8H173.5M159.5 163.2V178.4M145.5 168.1V173.5M173.5 168.1V173.5M156.8 163.2H162.2M156.8 178.4H162.2M113.3 189.6H141.9M127.6 183.2V196M113.3 186.9V192.3M141.9 186.9V192.3M124.9 183.2H130.3M124.9 196H130.3M114.9 184.4H138.3M126.6 179.7V189.1M114.9 181.7V187.1M138.3 181.7V187.1M123.9 179.7H129.3M123.9 189.1H129.3M120.7 188.9H134.7M127.7 183.7V194.1M120.7 186.2V191.6M134.7 186.2V191.6M125 183.7H130.4M125 194.1H130.4"/><path d="M155.7 131.5a2.3 2.3 0 1 0 4.6 0a2.3 2.3 0 1 0 -4.6 0zM172.6 118.3a2.3 2.3 0 1 0 4.6 0a2.3 2.3 0 1 0 -4.6 0zM168.4 142.4a2.3 2.3 0 1 0 4.6 0a2.3 2.3 0 1 0 -4.6 0zM145 203.3a2.3 2.3 0 1 0 4.6 0a2.3 2.3 0 1 0 -4.6 0zM103.1 195a2.3 2.3 0 1 0 4.6 0a2.3 2.3 0 1 0 -4.6 0zM113.5 196.9a2.3 2.3 0 1 0 4.6 0a2.3 2.3 0 1 0 -4.6 0zM140.4 185.25a2.3 2.3 0 1 0 4.6 0a2.3 2.3 0 1 0 -4.6 0zM121.3 198.9a2.3 2.3 0 1 0 4.6 0a2.3 2.3 0 1 0 -4.6 0zM136.6 169.9a2.3 2.3 0 1 0 4.6 0a2.3 2.3 0 1 0 -4.6 0zM156.5 169.9a2.3 2.3 0 1 0 4.6 0a2.3 2.3 0 1 0 -4.6 0zM96.1 192a2.3 2.3 0 1 0 4.6 0a2.3 2.3 0 1 0 -4.6 0zM109.7 196a2.3 2.3 0 1 0 4.6 0a2.3 2.3 0 1 0 -4.6 0zM111.3 170.5a2.3 2.3 0 1 0 4.6 0a2.3 2.3 0 1 0 -4.6 0zM116.5 172a2.3 2.3 0 1 0 4.6 0a2.3 2.3 0 1 0 -4.6 0zM140.9 162.2a2.3 2.3 0 1 0 4.6 0a2.3 2.3 0 1 0 -4.6 0zM125.2 191.6a2.3 2.3 0 1 0 4.6 0a2.3 2.3 0 1 0 -4.6 0zM132 178.6a2.3 2.3 0 1 0 4.6 0a2.3 2.3 0 1 0 -4.6 0zM120.2 188.7a2.3 2.3 0 1 0 4.6 0a2.3 2.3 0 1 0 -4.6 0zM130.7 183.8a2.3 2.3 0 1 0 4.6 0a2.3 2.3 0 1 0 -4.6 0zM121.2 192a2.3 2.3 0 1 0 4.6 0a2.3 2.3 0 1 0 -4.6 0zM135.6 172a2.3 2.3 0 1 0 4.6 0a2.3 2.3 0 1 0 -4.6 0zM130.2 181.9a2.3 2.3 0 1 0 4.6 0a2.3 2.3 0 1 0 -4.6 0zM145 168.3a2.3 2.3 0 1 0 4.6 0a2.3 2.3 0 1 0 -4.6 0zM141.2 178a2.3 2.3 0 1 0 4.6 0a2.3 2.3 0 1 0 -4.6 0zM130.6 174.7a2.3 2.3 0 1 0 4.6 0a2.3 2.3 0 1 0 -4.6 0zM123.3 185.9a2.3 2.3 0 1 0 4.6 0a2.3 2.3 0 1 0 -4.6 0zM134.8 170.6a2.3 2.3 0 1 0 4.6 0a2.3 2.3 0 1 0 -4.6 0zM138.8 167.9a2.3 2.3 0 1 0 4.6 0a2.3 2.3 0 1 0 -4.6 0zM157.2 170.8a2.3 2.3 0 1 0 4.6 0a2.3 2.3 0 1 0 -4.6 0zM125.3 189.6a2.3 2.3 0 1 0 4.6 0a2.3 2.3 0 1 0 -4.6 0zM124.3 184.4a2.3 2.3 0 1 0 4.6 0a2.3 2.3 0 1 0 -4.6 0zM125.4 188.9a2.3 2.3 0 1 0 4.6 0a2.3 2.3 0 1 0 -4.6 0z" fill="#780878" stroke="none"/></g><g fill="#000" font-weight="bold" stroke="#000" stroke-width="0.12"><text x="198.5" y="28.8" font-size="22">N</text><path d="M215.31 19.82h11V22.27h-11zM215.31 24.75h11V27.06h-11z"/><text x="227.24" y="28.8" font-size="22">30</text></g><path d="M162.55 60.7H177.4" stroke="#ff0000" stroke-width="1.3"/><g fill="#000" font-weight="bold" stroke="#000" stroke-width="0.18"><text x="191.16" y="62.85" font-size="27" font-style="italic">α</text><path d="M216.85 51.6h13v3h-13zM216.85 57.6h13v3h-13z"/><text x="238.57" y="62" font-size="25.8" font-style="italic">β</text></g><path d="M96.51 206.81L321.7 45.96" stroke="#ff0000" stroke-width="1.3"/><use href="#frame"/><use href="#labels"/></g>
<g transform="translate(863.5 1240.2)"><use href="#gA"/><g stroke="#800080" fill="none" stroke-width="1.0" stroke-dasharray="3.2 2.7"><ellipse cx="174.9" cy="118.3" rx="26.6" ry="81.9"/><ellipse cx="158" cy="131.5" rx="6" ry="84"/><ellipse cx="147.3" cy="203.3" rx="9.5" ry="112.4"/><ellipse cx="210.3" cy="191.6" rx="43.6" ry="7.2"/><ellipse cx="189" cy="174.3" rx="34.7" ry="2.7"/><ellipse cx="183.7" cy="180" rx="18.1" ry="9.5"/><ellipse cx="168.1" cy="183" rx="37.2" ry="2"/><ellipse cx="153.3" cy="199.7" rx="16" ry="12.5"/><ellipse cx="143.5" cy="209.5" rx="29.5" ry="12"/><ellipse cx="172" cy="204.4" rx="31.7" ry="10"/><ellipse cx="176" cy="203.9" rx="18.3" ry="11.7"/><ellipse cx="180" cy="205" rx="28" ry="4.1"/><ellipse cx="127.1" cy="216.4" rx="15" ry="28.2"/><ellipse cx="134.6" cy="216.4" rx="10" ry="12.5"/><ellipse cx="139.6" cy="220.6" rx="12" ry="26.6"/><ellipse cx="115.7" cy="220.6" rx="36.6" ry="5.3"/></g><g stroke="#780878" fill="none" stroke-width="1.15"><path d="M148.3 118.3H201.5M174.9 36.4V200.2M148.3 115.6V121M201.5 115.6V121M172.2 36.4H177.6M172.2 200.2H177.6M152 131.5H164M158 47.5V215.5M152 128.8V134.2M164 128.8V134.2M155.3 47.5H160.7M155.3 215.5H160.7M137.8 203.3H156.8M147.3 90.9V315.7M137.8 200.6V206M156.8 200.6V206M144.6 90.9H150M144.6 315.7H150M166.7 191.6H253.9M210.3 184.4V198.8M166.7 188.9V194.3M253.9 188.9V194.3M207.6 184.4H213M207.6 198.8H213M154.3 174.3H223.7M189 171.6V177M154.3 171.6V177M223.7 171.6V177M186.3 171.6H191.7M186.3 177H191.7M165.6 180H201.8M183.7 170.5V189.5M165.6 177.3V182.7M201.8 177.3V182.7M181 170.5H186.4M181 189.5H186.4M130.9 183H205.3M168.1 181V185M130.9 180.3V185.7M205.3 180.3V185.7M165.4 181H170.8M165.4 185H170.8M137.3 199.7H169.3M153.3 187.2V212.2M137.3 197V202.4M169.3 197V202.4M150.6 187.2H156M150.6 212.2H156M114 209.5H173M143.5 197.5V221.5M114 206.8V212.2M173 206.8V212.2M140.8 197.5H146.2M140.8 221.5H146.2M140.3 204.4H203.7M172 194.4V214.4M140.3 201.7V207.1M203.7 201.7V207.1M169.3 194.4H174.7M169.3 214.4H174.7M157.7 203.9H194.3M176 192.2V215.6M157.7 201.2V206.6M194.3 201.2V206.6M173.3 192.2H178.7M173.3 215.6H178.7M152 205H208M180 200.9V209.1M152 202.3V207.7M208 202.3V207.7M177.3 200.9H182.7M177.3 209.1H182.7M112.1 216.4H142.1M127.1 188.2V244.6M112.1 213.7V219.1M142.1 213.7V219.1M124.4 188.2H129.8M124.4 244.6H129.8M124.6 216.4H144.6M134.6 203.9V228.9M124.6 213.7V219.1M144.6 213.7V219.1M131.9 203.9H137.3M131.9 228.9H137.3M127.6 220.6H151.6M139.6 194V247.2M127.6 217.9V223.3M151.6 217.9V223.3M136.9 194H142.3M136.9 247.2H142.3M79.1 220.6H152.3M115.7 215.3V225.9M79.1 217.9V223.3M152.3 217.9V223.3M113 215.3H118.4M113 225.9H118.4"/><path d="M172.6 118.3a2.3 2.3 0 1 0 4.6 0a2.3 2.3 0 1 0 -4.6 0zM155.7 131.5a2.3 2.3 0 1 0 4.6 0a2.3 2.3 0 1 0 -4.6 0zM145 203.3a2.3 2.3 0 1 0 4.6 0a2.3 2.3 0 1 0 -4.6 0zM208 191.6a2.3 2.3 0 1 0 4.6 0a2.3 2.3 0 1 0 -4.6 0zM186.7 174.3a2.3 2.3 0 1 0 4.6 0a2.3 2.3 0 1 0 -4.6 0zM181.4 180a2.3 2.3 0 1 0 4.6 0a2.3 2.3 0 1 0 -4.6 0zM165.8 183a2.3 2.3 0 1 0 4.6 0a2.3 2.3 0 1 0 -4.6 0zM151 199.7a2.3 2.3 0 1 0 4.6 0a2.3 2.3 0 1 0 -4.6 0zM141.2 209.5a2.3 2.3 0 1 0 4.6 0a2.3 2.3 0 1 0 -4.6 0zM169.7 204.4a2.3 2.3 0 1 0 4.6 0a2.3 2.3 0 1 0 -4.6 0zM173.7 203.9a2.3 2.3 0 1 0 4.6 0a2.3 2.3 0 1 0 -4.6 0zM177.7 205a2.3 2.3 0 1 0 4.6 0a2.3 2.3 0 1 0 -4.6 0zM124.8 216.4a2.3 2.3 0 1 0 4.6 0a2.3 2.3 0 1 0 -4.6 0zM132.3 216.4a2.3 2.3 0 1 0 4.6 0a2.3 2.3 0 1 0 -4.6 0zM137.3 220.6a2.3 2.3 0 1 0 4.6 0a2.3 2.3 0 1 0 -4.6 0zM113.4 220.6a2.3 2.3 0 1 0 4.6 0a2.3 2.3 0 1 0 -4.6 0z" fill="#780878" stroke="none"/></g><g fill="#000" font-weight="bold" stroke="#000" stroke-width="0.12"><text x="230.6" y="28.8" font-size="22">N</text><path d="M247.41 19.82h11V22.27h-11zM247.41 24.75h11V27.06h-11z"/><path d="M267.99 28.8L264.97 28.8L264.97 17.39Q263.31 18.94 261.06 19.68L261.06 16.93Q262.25 16.54 263.63 15.46Q265.02 14.38 265.53 12.94L267.99 12.94z"/><text x="271.57" y="28.8" font-size="22">6</text></g><path d="M164.2 70.6H178.8" stroke="#ff0000" stroke-width="1.3"/><g fill="#000" font-weight="bold" stroke="#000" stroke-width="0.18"><text x="192.41" y="73.95" font-size="27" font-style="italic">α</text><path d="M218.1 62.7h13v3h-13zM218.1 68.7h13v3h-13z"/><text x="239.82" y="73.1" font-size="25.8" font-style="italic">β</text><rect x="256.6" y="65.3" width="13" height="3"/><path d="M281.44 73.2L277.97 73.2L277.97 60.13Q276.07 61.91 273.5 62.75L273.5 59.6Q274.85 59.16 276.44 57.92Q278.03 56.69 278.62 55.04L281.44 55.04z"/></g><path d="M128.68 229.79L321.7 91.91" stroke="#ff0000" stroke-width="1.3"/><use href="#frame"/><use href="#labels"/></g>
<g transform="translate(50.5 1646.2)"><use href="#gA"/><g stroke="#800080" fill="none" stroke-width="1.0" stroke-dasharray="3.2 2.7"><ellipse cx="83.9" cy="237.1" rx="22.5" ry="15.9"/></g><g stroke="#780878" fill="none" stroke-width="1.15"><path d="M61.4 237.1H106.4M83.9 221.2V253M61.4 234.4V239.8M106.4 234.4V239.8M81.2 221.2H86.6M81.2 253H86.6"/><path d="M81.6 237.1a2.3 2.3 0 1 0 4.6 0a2.3 2.3 0 1 0 -4.6 0z" fill="#780878" stroke="none"/></g><circle cx="85.79" cy="245.1" r="3.3" fill="#ff0000"/><g fill="#000" font-weight="bold" stroke="#000" stroke-width="0.12"><text x="236.7" y="28.8" font-size="22">N</text><path d="M253.51 19.82h11V22.27h-11zM253.51 24.75h11V27.06h-11z"/><path d="M274.09 28.8L271.07 28.8L271.07 17.39Q269.41 18.94 267.16 19.68L267.16 16.93Q268.35 16.54 269.73 15.46Q271.12 14.38 271.63 12.94L274.09 12.94z"/></g><circle cx="114.2" cy="71.15" r="3.3" fill="#ff0000"/><g fill="#000" font-weight="bold" stroke="#000" stroke-width="0.18"><text x="131.86" y="74.55" font-size="27" font-style="italic">α</text><path d="M157.7 63.3h13v3h-13zM157.7 69.3h13v3h-13z"/><rect x="180" y="65.9" width="12.7" height="3"/><text x="194.47" y="73.7" font-size="25.8" font-style="italic">β</text><text x="209.49" y="73.8" font-size="25.2">,</text><text x="224.67" y="73.7" font-size="25.8" font-style="italic">β</text><path d="M248.5 63.3h13v3h-13zM248.5 69.3h13v3h-13z"/><path d="M280.34 73.8L276.87 73.8L276.87 60.73Q274.97 62.51 272.4 63.35L272.4 60.2Q273.75 59.76 275.34 58.52Q276.93 57.29 277.52 55.64L280.34 55.64z"/><text x="283.5" y="73.8" font-size="25.2">/</text><text x="291.9" y="73.8" font-size="25.2">3</text></g><use href="#frame"/><use href="#labels"/></g>
<g transform="translate(457 1646.2)"><use href="#gA"/><g stroke="#800080" fill="none" stroke-width="1.0" stroke-dasharray="3.2 2.7"><ellipse cx="131.3" cy="126.8" rx="8.6" ry="33.4"/><ellipse cx="151.3" cy="127" rx="5" ry="13"/><ellipse cx="158" cy="131.5" rx="6" ry="84"/><ellipse cx="174.9" cy="118.3" rx="26.6" ry="81.9"/><ellipse cx="170.7" cy="142.4" rx="7.7" ry="21.6"/><ellipse cx="147.3" cy="203.3" rx="9.5" ry="112.4"/><ellipse cx="88.5" cy="168.1" rx="16.5" ry="8.9"/><ellipse cx="138.9" cy="169.9" rx="25" ry="22"/><ellipse cx="118" cy="167.9" rx="17" ry="4"/><ellipse cx="113.6" cy="170.5" rx="8" ry="40"/><ellipse cx="118.8" cy="172" rx="10" ry="36"/><ellipse cx="132" cy="155" rx="10.8" ry="9"/><ellipse cx="137.4" cy="148.9" rx="6" ry="8.3"/><ellipse cx="146.9" cy="148.1" rx="10.7" ry="4.8"/><ellipse cx="141.5" cy="155.5" rx="8" ry="10"/></g><g stroke="#780878" fill="none" stroke-width="1.15"><path d="M122.7 126.8H139.9M131.3 93.4V160.2M122.7 124.1V129.5M139.9 124.1V129.5M128.6 93.4H134M128.6 160.2H134M146.3 127H156.3M151.3 114V140M146.3 124.3V129.7M156.3 124.3V129.7M148.6 114H154M148.6 140H154M152 131.5H164M158 47.5V215.5M152 128.8V134.2M164 128.8V134.2M155.3 47.5H160.7M155.3 215.5H160.7M148.3 118.3H201.5M174.9 36.4V200.2M148.3 115.6V121M201.5 115.6V121M172.2 36.4H177.6M172.2 200.2H177.6M163 142.4H178.4M170.7 120.8V164M163 139.7V145.1M178.4 139.7V145.1M168 120.8H173.4M168 164H173.4M137.8 203.3H156.8M147.3 90.9V315.7M137.8 200.6V206M156.8 200.6V206M144.6 90.9H150M144.6 315.7H150M72 168.1H105M88.5 159.2V177M72 165.4V170.8M105 165.4V170.8M85.8 159.2H91.2M85.8 177H91.2M113.9 169.9H163.9M138.9 147.9V191.9M113.9 167.2V172.6M163.9 167.2V172.6M136.2 147.9H141.6M136.2 191.9H141.6M101 167.9H135M118 163.9V171.9M101 165.2V170.6M135 165.2V170.6M115.3 163.9H120.7M115.3 171.9H120.7M105.6 170.5H121.6M113.6 130.5V210.5M105.6 167.8V173.2M121.6 167.8V173.2M110.9 130.5H116.3M110.9 210.5H116.3M108.8 172H128.8M118.8 136V208M108.8 169.3V174.7M128.8 169.3V174.7M116.1 136H121.5M116.1 208H121.5M121.2 155H142.8M132 146V164M121.2 152.3V157.7M142.8 152.3V157.7M129.3 146H134.7M129.3 164H134.7M131.4 148.9H143.4M137.4 140.6V157.2M131.4 146.2V151.6M143.4 146.2V151.6M134.7 140.6H140.1M134.7 157.2H140.1M136.2 148.1H157.6M146.9 143.3V152.9M136.2 145.4V150.8M157.6 145.4V150.8M144.2 143.3H149.6M144.2 152.9H149.6M133.5 155.5H149.5M141.5 145.5V165.5M133.5 152.8V158.2M149.5 152.8V158.2M138.8 145.5H144.2M138.8 165.5H144.2"/><path d="M129 126.8a2.3 2.3 0 1 0 4.6 0a2.3 2.3 0 1 0 -4.6 0zM149 127a2.3 2.3 0 1 0 4.6 0a2.3 2.3 0 1 0 -4.6 0zM155.7 131.5a2.3 2.3 0 1 0 4.6 0a2.3 2.3 0 1 0 -4.6 0zM172.6 118.3a2.3 2.3 0 1 0 4.6 0a2.3 2.3 0 1 0 -4.6 0zM168.4 142.4a2.3 2.3 0 1 0 4.6 0a2.3 2.3 0 1 0 -4.6 0zM145 203.3a2.3 2.3 0 1 0 4.6 0a2.3 2.3 0 1 0 -4.6 0zM86.2 168.1a2.3 2.3 0 1 0 4.6 0a2.3 2.3 0 1 0 -4.6 0zM136.6 169.9a2.3 2.3 0 1 0 4.6 0a2.3 2.3 0 1 0 -4.6 0zM115.7 167.9a2.3 2.3 0 1 0 4.6 0a2.3 2.3 0 1 0 -4.6 0zM111.3 170.5a2.3 2.3 0 1 0 4.6 0a2.3 2.3 0 1 0 -4.6 0zM116.5 172a2.3 2.3 0 1 0 4.6 0a2.3 2.3 0 1 0 -4.6 0zM129.7 155a2.3 2.3 0 1 0 4.6 0a2.3 2.3 0 1 0 -4.6 0zM135.1 148.9a2.3 2.3 0 1 0 4.6 0a2.3 2.3 0 1 0 -4.6 0zM144.6 148.1a2.3 2.3 0 1 0 4.6 0a2.3 2.3 0 1 0 -4.6 0zM139.2 155.5a2.3 2.3 0 1 0 4.6 0a2.3 2.3 0 1 0 -4.6 0z" fill="#780878" stroke="none"/></g><g fill="#000" font-weight="bold" stroke="#000" stroke-width="0.12"><text x="263.5" y="28.8" font-size="22">N</text><path d="M280.31 19.82h11V22.27h-11zM280.31 24.75h11V27.06h-11z"/><path d="M300.89 28.8L297.87 28.8L297.87 17.39Q296.21 18.94 293.96 19.68L293.96 16.93Q295.15 16.54 296.53 15.46Q297.92 14.38 298.43 12.94L300.89 12.94z"/><text x="304.47" y="28.8" font-size="22">5</text></g><path d="M144.6 71.1H159.05" stroke="#ff0000" stroke-width="1.3"/><g fill="#000" font-weight="bold" stroke="#000" stroke-width="0.18"><text x="173.36" y="74.55" font-size="27" font-style="italic">α</text><path d="M198.5 63.3h13v3h-13zM198.5 69.3h13v3h-13z"/><text x="219.79" y="73.8" font-size="25.2">(</text><text x="228.27" y="73.7" font-size="25.8" font-style="italic">β</text><text x="244.39" y="73.8" font-size="25.2">+</text><text x="259.54" y="73.8" font-size="25.2">2</text><text x="274.4" y="73.8" font-size="25.2">)</text><text x="282.7" y="73.8" font-size="25.2">/</text><text x="291.05" y="73.8" font-size="25.2">3</text></g><path d="M96.51 176.17L321.7 15.32" stroke="#ff0000" stroke-width="1.3"/><use href="#frame"/><use href="#labels"/></g>
<g transform="translate(863.5 1646.2)"><use href="#gA"/><g stroke="#800080" fill="none" stroke-width="1.0" stroke-dasharray="3.2 2.7"><ellipse cx="174.9" cy="118.3" rx="26.6" ry="81.9"/><ellipse cx="158" cy="131.5" rx="6" ry="84"/><ellipse cx="147.3" cy="203.3" rx="9.5" ry="112.4"/><ellipse cx="210.3" cy="191.6" rx="43.6" ry="7.2"/><ellipse cx="189" cy="174.3" rx="34.7" ry="2.7"/><ellipse cx="183.7" cy="180" rx="18.1" ry="9.5"/><ellipse cx="168.1" cy="183" rx="37.2" ry="2"/><ellipse cx="153.3" cy="199.7" rx="16" ry="12.5"/><ellipse cx="143.5" cy="209.5" rx="29.5" ry="12"/><ellipse cx="172" cy="204.4" rx="31.7" ry="10"/><ellipse cx="176" cy="203.9" rx="18.3" ry="11.7"/><ellipse cx="180" cy="205" rx="28" ry="4.1"/><ellipse cx="127.1" cy="216.4" rx="15" ry="28.2"/><ellipse cx="134.6" cy="216.4" rx="10" ry="12.5"/><ellipse cx="139.6" cy="220.6" rx="12" ry="26.6"/><ellipse cx="115.7" cy="220.6" rx="36.6" ry="5.3"/></g><g stroke="#780878" fill="none" stroke-width="1.15"><path d="M148.3 118.3H201.5M174.9 36.4V200.2M148.3 115.6V121M201.5 115.6V121M172.2 36.4H177.6M172.2 200.2H177.6M152 131.5H164M158 47.5V215.5M152 128.8V134.2M164 128.8V134.2M155.3 47.5H160.7M155.3 215.5H160.7M137.8 203.3H156.8M147.3 90.9V315.7M137.8 200.6V206M156.8 200.6V206M144.6 90.9H150M144.6 315.7H150M166.7 191.6H253.9M210.3 184.4V198.8M166.7 188.9V194.3M253.9 188.9V194.3M207.6 184.4H213M207.6 198.8H213M154.3 174.3H223.7M189 171.6V177M154.3 171.6V177M223.7 171.6V177M186.3 171.6H191.7M186.3 177H191.7M165.6 180H201.8M183.7 170.5V189.5M165.6 177.3V182.7M201.8 177.3V182.7M181 170.5H186.4M181 189.5H186.4M130.9 183H205.3M168.1 181V185M130.9 180.3V185.7M205.3 180.3V185.7M165.4 181H170.8M165.4 185H170.8M137.3 199.7H169.3M153.3 187.2V212.2M137.3 197V202.4M169.3 197V202.4M150.6 187.2H156M150.6 212.2H156M114 209.5H173M143.5 197.5V221.5M114 206.8V212.2M173 206.8V212.2M140.8 197.5H146.2M140.8 221.5H146.2M140.3 204.4H203.7M172 194.4V214.4M140.3 201.7V207.1M203.7 201.7V207.1M169.3 194.4H174.7M169.3 214.4H174.7M157.7 203.9H194.3M176 192.2V215.6M157.7 201.2V206.6M194.3 201.2V206.6M173.3 192.2H178.7M173.3 215.6H178.7M152 205H208M180 200.9V209.1M152 202.3V207.7M208 202.3V207.7M177.3 200.9H182.7M177.3 209.1H182.7M112.1 216.4H142.1M127.1 188.2V244.6M112.1 213.7V219.1M142.1 213.7V219.1M124.4 188.2H129.8M124.4 244.6H129.8M124.6 216.4H144.6M134.6 203.9V228.9M124.6 213.7V219.1M144.6 213.7V219.1M131.9 203.9H137.3M131.9 228.9H137.3M127.6 220.6H151.6M139.6 194V247.2M127.6 217.9V223.3M151.6 217.9V223.3M136.9 194H142.3M136.9 247.2H142.3M79.1 220.6H152.3M115.7 215.3V225.9M79.1 217.9V223.3M152.3 217.9V223.3M113 215.3H118.4M113 225.9H118.4"/><path d="M172.6 118.3a2.3 2.3 0 1 0 4.6 0a2.3 2.3 0 1 0 -4.6 0zM155.7 131.5a2.3 2.3 0 1 0 4.6 0a2.3 2.3 0 1 0 -4.6 0zM145 203.3a2.3 2.3 0 1 0 4.6 0a2.3 2.3 0 1 0 -4.6 0zM208 191.6a2.3 2.3 0 1 0 4.6 0a2.3 2.3 0 1 0 -4.6 0zM186.7 174.3a2.3 2.3 0 1 0 4.6 0a2.3 2.3 0 1 0 -4.6 0zM181.4 180a2.3 2.3 0 1 0 4.6 0a2.3 2.3 0 1 0 -4.6 0zM165.8 183a2.3 2.3 0 1 0 4.6 0a2.3 2.3 0 1 0 -4.6 0zM151 199.7a2.3 2.3 0 1 0 4.6 0a2.3 2.3 0 1 0 -4.6 0zM141.2 209.5a2.3 2.3 0 1 0 4.6 0a2.3 2.3 0 1 0 -4.6 0zM169.7 204.4a2.3 2.3 0 1 0 4.6 0a2.3 2.3 0 1 0 -4.6 0zM173.7 203.9a2.3 2.3 0 1 0 4.6 0a2.3 2.3 0 1 0 -4.6 0zM177.7 205a2.3 2.3 0 1 0 4.6 0a2.3 2.3 0 1 0 -4.6 0zM124.8 216.4a2.3 2.3 0 1 0 4.6 0a2.3 2.3 0 1 0 -4.6 0zM132.3 216.4a2.3 2.3 0 1 0 4.6 0a2.3 2.3 0 1 0 -4.6 0zM137.3 220.6a2.3 2.3 0 1 0 4.6 0a2.3 2.3 0 1 0 -4.6 0zM113.4 220.6a2.3 2.3 0 1 0 4.6 0a2.3 2.3 0 1 0 -4.6 0z" fill="#780878" stroke="none"/></g><g fill="#000" font-weight="bold" stroke="#000" stroke-width="0.12"><text x="230.6" y="28.8" font-size="22">N</text><path d="M247.41 19.82h11V22.27h-11zM247.41 24.75h11V27.06h-11z"/><path d="M267.99 28.8L264.97 28.8L264.97 17.39Q263.31 18.94 261.06 19.68L261.06 16.93Q262.25 16.54 263.63 15.46Q265.02 14.38 265.53 12.94L267.99 12.94z"/><text x="271.57" y="28.8" font-size="22">6</text></g><path d="M164.2 70.6H178.8" stroke="#ff0000" stroke-width="1.3"/><g fill="#000" font-weight="bold" stroke="#000" stroke-width="0.18"><text x="192.41" y="73.95" font-size="27" font-style="italic">α</text><path d="M218.1 62.7h13v3h-13zM218.1 68.7h13v3h-13z"/><text x="239.82" y="73.1" font-size="25.8" font-style="italic">β</text><rect x="256.6" y="65.3" width="13" height="3"/><path d="M281.44 73.2L277.97 73.2L277.97 60.13Q276.07 61.91 273.5 62.75L273.5 59.6Q274.85 59.16 276.44 57.92Q278.03 56.69 278.62 55.04L281.44 55.04z"/></g><path d="M128.68 229.79L321.7 91.91" stroke="#ff0000" stroke-width="1.3"/><use href="#frame"/><use href="#labels"/></g>
</svg></body></html>
